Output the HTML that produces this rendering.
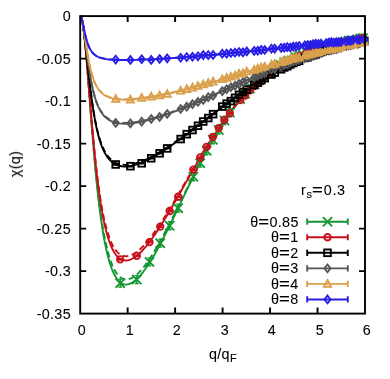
<!DOCTYPE html>
<html><head><meta charset="utf-8"><title>chi(q)</title>
<style>
html,body{margin:0;padding:0;background:#fff;}
#c{position:relative;width:390px;height:379px;overflow:hidden;background:#fff;font-family:"Liberation Sans",sans-serif;}
.t{position:absolute;font-family:"Liberation Sans",sans-serif;font-size:13.8px;line-height:16px;height:16px;color:#000;white-space:nowrap;letter-spacing:0.3px;transform:scaleX(1.04);will-change:transform;-webkit-text-stroke:0.08px #000;}
.sub{font-size:10.6px;position:relative;top:3.4px;letter-spacing:0.3px;}
.eq{display:inline-block;transform:scaleX(1.3);margin:0 1.1px 0 1.2px;}
</style></head><body><div id="c">
<svg width="390" height="379" viewBox="0 0 390 379" style="position:absolute;left:0;top:0">
<defs><clipPath id="cp"><rect x="79.2" y="15.1" width="290.8" height="299.5"/></clipPath></defs>
<g clip-path="url(#cp)" fill="none" stroke-linejoin="round">
<path d="M80.34,16.12 L80.95,16.78 L81.55,18.33 L82.16,20.74 L82.76,23.98 L83.37,27.99 L83.97,32.71 L84.58,38.09 L85.18,44.05 L85.79,50.51 L86.39,57.40 L87.00,64.63 L87.60,72.15 L88.21,79.86 L88.81,87.71 L89.42,95.64 L90.02,103.59 L90.63,111.52 L91.23,119.37 L91.84,127.11 L92.44,134.70 L93.05,142.14 L93.65,149.38 L94.26,156.41 L94.86,163.23 L95.46,169.82 L96.07,176.17 L96.67,182.28 L97.28,188.15 L97.88,193.78 L98.49,199.17 L99.09,204.33 L99.70,209.25 L100.30,213.95 L100.91,218.43 L101.51,222.69 L102.12,226.74 L102.72,230.60 L103.33,234.26 L103.93,237.73 L104.88,242.83 L107.27,253.84 L109.66,262.63 L112.04,269.52 L114.43,274.81 L116.81,278.76 L119.20,281.56 L121.59,283.37 L123.97,284.34 L126.36,284.58 L128.75,284.18 L131.13,283.22 L133.52,281.77 L135.91,279.88 L138.29,277.60 L140.68,274.97 L143.07,272.03 L145.45,268.80 L147.84,265.33 L150.22,261.63 L152.61,257.72 L155.00,253.64 L157.38,249.39 L159.77,245.00 L162.16,240.48 L164.54,235.85 L166.93,231.13 L169.32,226.34 L171.70,221.47 L174.09,216.56 L176.47,211.62 L178.86,206.64 L181.25,201.66 L183.63,196.68 L186.02,191.71 L188.41,186.77 L190.79,181.86 L193.18,176.99 L195.57,172.17 L197.95,167.42 L200.34,162.74 L202.72,158.14 L205.11,153.62 L207.50,149.19 L209.88,144.85 L212.27,140.62 L214.66,136.49 L217.04,132.48 L219.43,128.57 L221.82,124.77 L224.20,121.09 L226.59,117.53 L228.98,114.08 L231.36,110.75 L233.75,107.54 L236.13,104.44 L238.52,101.45 L240.91,98.57 L243.29,95.81 L245.68,93.15 L248.07,90.60 L250.45,88.15 L252.84,85.80 L255.23,83.54 L257.61,81.38 L260.00,79.31 L262.38,77.33 L264.77,75.43 L267.16,73.60 L269.54,71.86 L271.93,70.19 L274.32,68.59 L276.70,67.06 L279.09,65.60 L281.48,64.19 L283.86,62.84 L286.25,61.55 L288.64,60.32 L291.02,59.13 L293.41,57.99 L295.79,56.90 L298.18,55.86 L300.57,54.85 L302.95,53.88 L305.34,52.95 L307.73,52.06 L310.11,51.20 L312.50,50.37 L314.89,49.58 L317.27,48.81 L319.66,48.07 L322.04,47.36 L324.43,46.67 L326.82,46.01 L329.20,45.36 L331.59,44.75 L333.98,44.15 L336.36,43.57 L338.75,43.01 L341.14,42.47 L343.52,41.94 L345.91,41.43 L348.30,40.94 L350.68,40.46 L353.07,40.00 L355.45,39.55 L357.84,39.11 L360.23,38.69 L362.61,38.28 L365.00,37.88" stroke="#149632" stroke-width="1.9"/>
<path d="M80.34,16.12 L80.95,16.78 L81.55,18.33 L82.16,20.74 L82.76,23.97 L83.37,27.97 L83.97,32.69 L84.58,38.05 L85.18,43.99 L85.79,50.41 L86.39,57.26 L87.00,64.44 L87.60,71.89 L88.21,79.52 L88.81,87.29 L89.42,95.12 L90.02,102.96 L90.63,110.76 L91.23,118.49 L91.84,126.09 L92.44,133.55 L93.05,140.84 L93.65,147.93 L94.26,154.81 L94.86,161.47 L95.46,167.90 L96.07,174.09 L96.67,180.05 L97.28,185.76 L97.88,191.24 L98.49,196.48 L99.09,201.48 L99.70,206.26 L100.30,210.82 L100.91,215.16 L101.51,219.29 L102.12,223.22 L102.72,226.96 L103.33,230.50 L103.93,233.86 L104.88,238.79 L107.27,249.45 L109.66,257.95 L112.04,264.63 L114.43,269.78 L116.81,273.64 L119.20,276.39 L121.59,278.21 L123.97,279.21 L126.36,279.51 L128.75,279.20 L131.13,278.36 L133.52,277.03 L135.91,275.28 L138.29,273.15 L140.68,270.69 L143.07,267.91 L145.45,264.87 L147.84,261.57 L150.22,258.04 L152.61,254.32 L155.00,250.41 L157.38,246.33 L159.77,242.11 L162.16,237.76 L164.54,233.30 L166.93,228.74 L169.32,224.09 L171.70,219.37 L174.09,214.60 L176.47,209.79 L178.86,204.94 L181.25,200.08 L183.63,195.21 L186.02,190.35 L188.41,185.51 L190.79,180.70 L193.18,175.92 L195.57,171.19 L197.95,166.52 L200.34,161.91 L202.72,157.37 L205.11,152.91 L207.50,148.54 L209.88,144.26 L212.27,140.08 L214.66,136.00 L217.04,132.02 L219.43,128.15 L221.82,124.39 L224.20,120.75 L226.59,117.21 L228.98,113.79 L231.36,110.48 L233.75,107.29 L236.13,104.21 L238.52,101.24 L240.91,98.39 L243.29,95.64 L245.68,92.99 L248.07,90.45 L250.45,88.02 L252.84,85.68 L255.23,83.43 L257.61,81.28 L260.00,79.22 L262.38,77.24 L264.77,75.35 L267.16,73.53 L269.54,71.79 L271.93,70.13 L274.32,68.54 L276.70,67.01 L279.09,65.55 L281.48,64.14 L283.86,62.80 L286.25,61.52 L288.64,60.28 L291.02,59.10 L293.41,57.96 L295.79,56.87 L298.18,55.83 L300.57,54.82 L302.95,53.86 L305.34,52.93 L307.73,52.04 L310.11,51.18 L312.50,50.36 L314.89,49.56 L317.27,48.79 L319.66,48.06 L322.04,47.34 L324.43,46.66 L326.82,45.99 L329.20,45.35 L331.59,44.73 L333.98,44.14 L336.36,43.56 L338.75,43.00 L341.14,42.46 L343.52,41.93 L345.91,41.42 L348.30,40.93 L350.68,40.45 L353.07,39.99 L355.45,39.54 L357.84,39.11 L360.23,38.68 L362.61,38.27 L365.00,37.87" stroke="#149632" stroke-width="1.9" stroke-dasharray="6,3.5"/>
<path d="M80.34,16.12 L80.95,16.78 L81.55,18.33 L82.16,20.73 L82.76,23.95 L83.37,27.94 L83.97,32.62 L84.58,37.92 L85.18,43.78 L85.79,50.10 L86.39,56.81 L87.00,63.82 L87.60,71.06 L88.21,78.46 L88.81,85.95 L89.42,93.47 L90.02,100.97 L90.63,108.40 L91.23,115.73 L91.84,122.91 L92.44,129.93 L93.05,136.75 L93.65,143.37 L94.26,149.77 L94.86,155.94 L95.46,161.88 L96.07,167.57 L96.67,173.03 L97.28,178.25 L97.88,183.24 L98.49,187.99 L99.09,192.53 L99.70,196.84 L100.30,200.94 L100.91,204.84 L101.51,208.53 L102.12,212.04 L102.72,215.36 L103.33,218.51 L103.93,221.49 L104.88,225.84 L107.27,235.19 L109.66,242.58 L112.04,248.33 L114.43,252.71 L116.81,255.95 L119.20,258.21 L121.59,259.66 L123.97,260.40 L126.36,260.53 L128.75,260.13 L131.13,259.28 L133.52,258.01 L135.91,256.39 L138.29,254.45 L140.68,252.23 L143.07,249.74 L145.45,247.04 L147.84,244.12 L150.22,241.02 L152.61,237.75 L155.00,234.34 L157.38,230.79 L159.77,227.12 L162.16,223.35 L164.54,219.48 L166.93,215.53 L169.32,211.52 L171.70,207.45 L174.09,203.33 L176.47,199.17 L178.86,194.99 L181.25,190.79 L183.63,186.58 L186.02,182.37 L188.41,178.17 L190.79,173.98 L193.18,169.82 L195.57,165.69 L197.95,161.60 L200.34,157.55 L202.72,153.55 L205.11,149.60 L207.50,145.72 L209.88,141.90 L212.27,138.15 L214.66,134.48 L217.04,130.88 L219.43,127.36 L221.82,123.92 L224.20,120.57 L226.59,117.31 L228.98,114.13 L231.36,111.04 L233.75,108.04 L236.13,105.13 L238.52,102.31 L240.91,99.58 L243.29,96.94 L245.68,94.39 L248.07,91.92 L250.45,89.54 L252.84,87.24 L255.23,85.02 L257.61,82.89 L260.00,80.83 L262.38,78.86 L264.77,76.95 L267.16,75.12 L269.54,73.36 L271.93,71.67 L274.32,70.04 L276.70,68.47 L279.09,66.97 L281.48,65.53 L283.86,64.14 L286.25,62.81 L288.64,61.53 L291.02,60.30 L293.41,59.11 L295.79,57.98 L298.18,56.89 L300.57,55.84 L302.95,54.83 L305.34,53.85 L307.73,52.92 L310.11,52.02 L312.50,51.16 L314.89,50.32 L317.27,49.52 L319.66,48.75 L322.04,48.00 L324.43,47.28 L326.82,46.59 L329.20,45.92 L331.59,45.27 L333.98,44.65 L336.36,44.04 L338.75,43.46 L341.14,42.89 L343.52,42.35 L345.91,41.82 L348.30,41.31 L350.68,40.81 L353.07,40.33 L355.45,39.87 L357.84,39.42 L360.23,38.98 L362.61,38.55 L365.00,38.14" stroke="#ca0f1a" stroke-width="1.9"/>
<path d="M80.34,16.12 L80.95,16.78 L81.55,18.33 L82.16,20.73 L82.76,23.95 L83.37,27.92 L83.97,32.59 L84.58,37.88 L85.18,43.71 L85.79,50.00 L86.39,56.67 L87.00,63.63 L87.60,70.81 L88.21,78.13 L88.81,85.54 L89.42,92.97 L90.02,100.38 L90.63,107.70 L91.23,114.91 L91.84,121.97 L92.44,128.87 L93.05,135.56 L93.65,142.05 L94.26,148.31 L94.86,154.35 L95.46,160.15 L96.07,165.71 L96.67,171.04 L97.28,176.13 L97.88,180.98 L98.49,185.62 L99.09,190.03 L99.70,194.22 L100.30,198.21 L100.91,201.99 L101.51,205.58 L102.12,208.99 L102.72,212.21 L103.33,215.27 L103.93,218.16 L104.88,222.38 L107.27,231.46 L109.66,238.63 L112.04,244.22 L114.43,248.50 L116.81,251.67 L119.20,253.91 L121.59,255.36 L123.97,256.13 L126.36,256.32 L128.75,256.00 L131.13,255.23 L133.52,254.08 L135.91,252.57 L138.29,250.75 L140.68,248.66 L143.07,246.31 L145.45,243.74 L147.84,240.97 L150.22,238.01 L152.61,234.88 L155.00,231.61 L157.38,228.20 L159.77,224.67 L162.16,221.03 L164.54,217.29 L166.93,213.47 L169.32,209.58 L171.70,205.62 L174.09,201.62 L176.47,197.57 L178.86,193.49 L181.25,189.39 L183.63,185.27 L186.02,181.15 L188.41,177.04 L190.79,172.93 L193.18,168.85 L195.57,164.79 L197.95,160.76 L200.34,156.77 L202.72,152.83 L205.11,148.94 L207.50,145.11 L209.88,141.34 L212.27,137.63 L214.66,134.00 L217.04,130.44 L219.43,126.95 L221.82,123.55 L224.20,120.23 L226.59,116.99 L228.98,113.84 L231.36,110.77 L233.75,107.80 L236.13,104.91 L238.52,102.10 L240.91,99.39 L243.29,96.76 L245.68,94.22 L248.07,91.77 L250.45,89.40 L252.84,87.11 L255.23,84.91 L257.61,82.78 L260.00,80.74 L262.38,78.77 L264.77,76.87 L267.16,75.04 L269.54,73.29 L271.93,71.60 L274.32,69.98 L276.70,68.42 L279.09,66.92 L281.48,65.48 L283.86,64.10 L286.25,62.77 L288.64,61.49 L291.02,60.26 L293.41,59.08 L295.79,57.95 L298.18,56.86 L300.57,55.81 L302.95,54.80 L305.34,53.83 L307.73,52.90 L310.11,52.00 L312.50,51.14 L314.89,50.30 L317.27,49.50 L319.66,48.73 L322.04,47.98 L324.43,47.27 L326.82,46.57 L329.20,45.90 L331.59,45.26 L333.98,44.63 L336.36,44.03 L338.75,43.45 L341.14,42.88 L343.52,42.34 L345.91,41.81 L348.30,41.30 L350.68,40.81 L353.07,40.33 L355.45,39.86 L357.84,39.41 L360.23,38.97 L362.61,38.55 L365.00,38.14" stroke="#ca0f1a" stroke-width="1.9" stroke-dasharray="6,3.5"/>
<path d="M80.34,16.12 L80.95,16.78 L81.55,18.32 L82.16,20.68 L82.76,23.80 L83.37,27.59 L83.97,31.96 L84.58,36.79 L85.18,41.97 L85.79,47.41 L86.39,53.01 L87.00,58.69 L87.60,64.37 L88.21,69.98 L88.81,75.48 L89.42,80.83 L90.02,86.00 L90.63,90.96 L91.23,95.71 L91.84,100.23 L92.44,104.52 L93.05,108.58 L93.65,112.41 L94.26,116.03 L94.86,119.43 L95.46,122.63 L96.07,125.64 L96.67,128.46 L97.28,131.10 L97.88,133.58 L98.49,135.91 L99.09,138.08 L99.70,140.12 L100.30,142.03 L100.91,143.82 L101.51,145.49 L102.12,147.06 L102.72,148.53 L103.33,149.90 L103.93,151.18 L104.88,153.03 L107.27,156.91 L109.66,159.87 L112.04,162.10 L114.43,163.76 L116.81,164.95 L119.20,165.75 L121.59,166.23 L123.97,166.45 L126.36,166.43 L128.75,166.22 L131.13,165.84 L133.52,165.30 L135.91,164.64 L138.29,163.86 L140.68,162.97 L143.07,161.99 L145.45,160.92 L147.84,159.77 L150.22,158.55 L152.61,157.27 L155.00,155.92 L157.38,154.53 L159.77,153.08 L162.16,151.58 L164.54,150.04 L166.93,148.47 L169.32,146.86 L171.70,145.21 L174.09,143.54 L176.47,141.84 L178.86,140.11 L181.25,138.37 L183.63,136.60 L186.02,134.82 L188.41,133.02 L190.79,131.21 L193.18,129.39 L195.57,127.57 L197.95,125.73 L200.34,123.90 L202.72,122.06 L205.11,120.22 L207.50,118.38 L209.88,116.55 L212.27,114.72 L214.66,112.89 L217.04,111.08 L219.43,109.27 L221.82,107.48 L224.20,105.69 L226.59,103.92 L228.98,102.17 L231.36,100.43 L233.75,98.71 L236.13,97.00 L238.52,95.32 L240.91,93.65 L243.29,92.00 L245.68,90.38 L248.07,88.78 L250.45,87.20 L252.84,85.65 L255.23,84.12 L257.61,82.61 L260.00,81.13 L262.38,79.67 L264.77,78.24 L267.16,76.84 L269.54,75.46 L271.93,74.11 L274.32,72.79 L276.70,71.49 L279.09,70.22 L281.48,68.98 L283.86,67.76 L286.25,66.57 L288.64,65.41 L291.02,64.27 L293.41,63.16 L295.79,62.08 L298.18,61.02 L300.57,59.99 L302.95,58.98 L305.34,58.00 L307.73,57.04 L310.11,56.11 L312.50,55.20 L314.89,54.31 L317.27,53.45 L319.66,52.61 L322.04,51.79 L324.43,51.00 L326.82,50.22 L329.20,49.47 L331.59,48.74 L333.98,48.02 L336.36,47.33 L338.75,46.66 L341.14,46.00 L343.52,45.37 L345.91,44.75 L348.30,44.15 L350.68,43.56 L353.07,42.99 L355.45,42.44 L357.84,41.90 L360.23,41.38 L362.61,40.88 L365.00,40.38" stroke="#000000" stroke-width="1.9"/>
<path d="M80.34,16.12 L80.95,16.78 L81.55,18.32 L82.16,20.68 L82.76,23.80 L83.37,27.58 L83.97,31.94 L84.58,36.75 L85.18,41.92 L85.79,47.33 L86.39,52.90 L87.00,58.54 L87.60,64.17 L88.21,69.74 L88.81,75.19 L89.42,80.48 L90.02,85.59 L90.63,90.50 L91.23,95.18 L91.84,99.64 L92.44,103.87 L93.05,107.88 L93.65,111.65 L94.26,115.21 L94.86,118.56 L95.46,121.71 L96.07,124.66 L96.67,127.43 L97.28,130.03 L97.88,132.47 L98.49,134.75 L99.09,136.88 L99.70,138.88 L100.30,140.76 L100.91,142.51 L101.51,144.15 L102.12,145.69 L102.72,147.13 L103.33,148.47 L103.93,149.73 L104.88,151.55 L107.27,155.35 L109.66,158.26 L112.04,160.47 L114.43,162.11 L116.81,163.29 L119.20,164.09 L121.59,164.59 L123.97,164.82 L126.36,164.83 L128.75,164.64 L131.13,164.29 L133.52,163.80 L135.91,163.17 L138.29,162.43 L140.68,161.58 L143.07,160.64 L145.45,159.61 L147.84,158.51 L150.22,157.34 L152.61,156.10 L155.00,154.80 L157.38,153.44 L159.77,152.04 L162.16,150.59 L164.54,149.09 L166.93,147.56 L169.32,145.98 L171.70,144.38 L174.09,142.74 L176.47,141.08 L178.86,139.39 L181.25,137.68 L183.63,135.95 L186.02,134.20 L188.41,132.43 L190.79,130.65 L193.18,128.86 L195.57,127.06 L197.95,125.26 L200.34,123.44 L202.72,121.63 L205.11,119.81 L207.50,118.00 L209.88,116.19 L212.27,114.38 L214.66,112.57 L217.04,110.77 L219.43,108.99 L221.82,107.21 L224.20,105.44 L226.59,103.68 L228.98,101.94 L231.36,100.22 L233.75,98.51 L236.13,96.81 L238.52,95.14 L240.91,93.48 L243.29,91.85 L245.68,90.24 L248.07,88.64 L250.45,87.07 L252.84,85.53 L255.23,84.00 L257.61,82.50 L260.00,81.03 L262.38,79.58 L264.77,78.16 L267.16,76.76 L269.54,75.39 L271.93,74.04 L274.32,72.72 L276.70,71.43 L279.09,70.16 L281.48,68.92 L283.86,67.71 L286.25,66.52 L288.64,65.36 L291.02,64.23 L293.41,63.12 L295.79,62.04 L298.18,60.98 L300.57,59.95 L302.95,58.95 L305.34,57.97 L307.73,57.01 L310.11,56.08 L312.50,55.17 L314.89,54.29 L317.27,53.43 L319.66,52.59 L322.04,51.77 L324.43,50.98 L326.82,50.20 L329.20,49.45 L331.59,48.72 L333.98,48.01 L336.36,47.32 L338.75,46.64 L341.14,45.99 L343.52,45.35 L345.91,44.74 L348.30,44.14 L350.68,43.55 L353.07,42.98 L355.45,42.43 L357.84,41.90 L360.23,41.37 L362.61,40.87 L365.00,40.38" stroke="#000000" stroke-width="1.9" stroke-dasharray="6,3.5"/>
<path d="M80.34,16.12 L80.95,16.78 L81.55,18.30 L82.16,20.63 L82.76,23.65 L83.37,27.26 L83.97,31.32 L84.58,35.72 L85.18,40.32 L85.79,45.03 L86.39,49.75 L87.00,54.40 L87.60,58.93 L88.21,63.29 L88.81,67.46 L89.42,71.41 L90.02,75.14 L90.63,78.64 L91.23,81.92 L91.84,84.98 L92.44,87.83 L93.05,90.48 L93.65,92.94 L94.26,95.22 L94.86,97.34 L95.46,99.30 L96.07,101.12 L96.67,102.81 L97.28,104.38 L97.88,105.83 L98.49,107.18 L99.09,108.43 L99.70,109.59 L100.30,110.67 L100.91,111.67 L101.51,112.60 L102.12,113.47 L102.72,114.28 L103.33,115.03 L103.93,115.73 L104.88,116.73 L107.27,118.80 L109.66,120.35 L112.04,121.51 L114.43,122.37 L116.81,122.97 L119.20,123.37 L121.59,123.61 L123.97,123.71 L126.36,123.70 L128.75,123.58 L131.13,123.38 L133.52,123.10 L135.91,122.75 L138.29,122.34 L140.68,121.88 L143.07,121.37 L145.45,120.82 L147.84,120.22 L150.22,119.59 L152.61,118.92 L155.00,118.22 L157.38,117.49 L159.77,116.73 L162.16,115.94 L164.54,115.13 L166.93,114.30 L169.32,113.45 L171.70,112.57 L174.09,111.68 L176.47,110.77 L178.86,109.84 L181.25,108.90 L183.63,107.94 L186.02,106.97 L188.41,105.99 L190.79,104.99 L193.18,103.99 L195.57,102.97 L197.95,101.95 L200.34,100.92 L202.72,99.88 L205.11,98.84 L207.50,97.79 L209.88,96.74 L212.27,95.68 L214.66,94.62 L217.04,93.56 L219.43,92.49 L221.82,91.43 L224.20,90.36 L226.59,89.30 L228.98,88.24 L231.36,87.18 L233.75,86.12 L236.13,85.06 L238.52,84.01 L240.91,82.96 L243.29,81.92 L245.68,80.88 L248.07,79.85 L250.45,78.82 L252.84,77.80 L255.23,76.79 L257.61,75.78 L260.00,74.78 L262.38,73.80 L264.77,72.82 L267.16,71.84 L269.54,70.88 L271.93,69.93 L274.32,68.99 L276.70,68.06 L279.09,67.14 L281.48,66.23 L283.86,65.33 L286.25,64.44 L288.64,63.57 L291.02,62.70 L293.41,61.85 L295.79,61.01 L298.18,60.18 L300.57,59.36 L302.95,58.56 L305.34,57.77 L307.73,56.99 L310.11,56.22 L312.50,55.47 L314.89,54.73 L317.27,54.00 L319.66,53.28 L322.04,52.58 L324.43,51.89 L326.82,51.21 L329.20,50.54 L331.59,49.89 L333.98,49.25 L336.36,48.62 L338.75,48.00 L341.14,47.40 L343.52,46.80 L345.91,46.22 L348.30,45.65 L350.68,45.09 L353.07,44.55 L355.45,44.01 L357.84,43.49 L360.23,42.98 L362.61,42.47 L365.00,41.98" stroke="#555555" stroke-width="1.9"/>
<path d="M80.34,16.12 L80.95,16.78 L81.55,18.30 L82.16,20.62 L82.76,23.64 L83.37,27.25 L83.97,31.30 L84.58,35.69 L85.18,40.27 L85.79,44.96 L86.39,49.65 L87.00,54.28 L87.60,58.78 L88.21,63.11 L88.81,67.24 L89.42,71.16 L90.02,74.85 L90.63,78.32 L91.23,81.56 L91.84,84.59 L92.44,87.40 L93.05,90.02 L93.65,92.45 L94.26,94.71 L94.86,96.80 L95.46,98.73 L96.07,100.53 L96.67,102.20 L97.28,103.74 L97.88,105.18 L98.49,106.50 L99.09,107.74 L99.70,108.88 L100.30,109.95 L100.91,110.94 L101.51,111.86 L102.12,112.71 L102.72,113.51 L103.33,114.25 L103.93,114.94 L104.88,115.92 L107.27,117.97 L109.66,119.51 L112.04,120.66 L114.43,121.51 L116.81,122.11 L119.20,122.52 L121.59,122.77 L123.97,122.88 L126.36,122.87 L128.75,122.77 L131.13,122.58 L133.52,122.32 L135.91,121.99 L138.29,121.60 L140.68,121.16 L143.07,120.67 L145.45,120.14 L147.84,119.56 L150.22,118.95 L152.61,118.30 L155.00,117.62 L157.38,116.91 L159.77,116.17 L162.16,115.40 L164.54,114.61 L166.93,113.80 L169.32,112.96 L171.70,112.11 L174.09,111.23 L176.47,110.34 L178.86,109.43 L181.25,108.50 L183.63,107.56 L186.02,106.60 L188.41,105.64 L190.79,104.66 L193.18,103.67 L195.57,102.67 L197.95,101.66 L200.34,100.64 L202.72,99.61 L205.11,98.58 L207.50,97.55 L209.88,96.50 L212.27,95.46 L214.66,94.41 L217.04,93.36 L219.43,92.30 L221.82,91.25 L224.20,90.19 L226.59,89.13 L228.98,88.08 L231.36,87.03 L233.75,85.97 L236.13,84.92 L238.52,83.88 L240.91,82.84 L243.29,81.80 L245.68,80.77 L248.07,79.74 L250.45,78.72 L252.84,77.70 L255.23,76.70 L257.61,75.70 L260.00,74.70 L262.38,73.72 L264.77,72.74 L267.16,71.78 L269.54,70.82 L271.93,69.87 L274.32,68.93 L276.70,68.00 L279.09,67.09 L281.48,66.18 L283.86,65.28 L286.25,64.40 L288.64,63.52 L291.02,62.66 L293.41,61.81 L295.79,60.97 L298.18,60.15 L300.57,59.33 L302.95,58.53 L305.34,57.74 L307.73,56.96 L310.11,56.20 L312.50,55.44 L314.89,54.70 L317.27,53.98 L319.66,53.26 L322.04,52.56 L324.43,51.87 L326.82,51.19 L329.20,50.53 L331.59,49.87 L333.98,49.23 L336.36,48.60 L338.75,47.99 L341.14,47.38 L343.52,46.79 L345.91,46.21 L348.30,45.64 L350.68,45.08 L353.07,44.54 L355.45,44.00 L357.84,43.48 L360.23,42.97 L362.61,42.47 L365.00,41.98" stroke="#555555" stroke-width="1.9" stroke-dasharray="6,3.5"/>
<path d="M80.34,16.12 L80.95,16.78 L81.55,18.29 L82.16,20.57 L82.76,23.50 L83.37,26.93 L83.97,30.73 L84.58,34.74 L85.18,38.85 L85.79,42.96 L86.39,46.98 L87.00,50.85 L87.60,54.54 L88.21,58.01 L88.81,61.27 L89.42,64.30 L90.02,67.11 L90.63,69.70 L91.23,72.09 L91.84,74.29 L92.44,76.31 L93.05,78.16 L93.65,79.86 L94.26,81.43 L94.86,82.87 L95.46,84.19 L96.07,85.40 L96.67,86.52 L97.28,87.55 L97.88,88.50 L98.49,89.37 L99.09,90.18 L99.70,90.92 L100.30,91.61 L100.91,92.25 L101.51,92.84 L102.12,93.39 L102.72,93.89 L103.33,94.36 L103.93,94.80 L104.88,95.42 L107.27,96.70 L109.66,97.65 L112.04,98.36 L114.43,98.88 L116.81,99.24 L119.20,99.48 L121.59,99.62 L123.97,99.68 L126.36,99.67 L128.75,99.60 L131.13,99.47 L133.52,99.30 L135.91,99.09 L138.29,98.85 L140.68,98.57 L143.07,98.26 L145.45,97.92 L147.84,97.56 L150.22,97.18 L152.61,96.77 L155.00,96.34 L157.38,95.90 L159.77,95.43 L162.16,94.95 L164.54,94.46 L166.93,93.94 L169.32,93.42 L171.70,92.88 L174.09,92.33 L176.47,91.76 L178.86,91.19 L181.25,90.60 L183.63,90.00 L186.02,89.40 L188.41,88.78 L190.79,88.15 L193.18,87.52 L195.57,86.88 L197.95,86.23 L200.34,85.57 L202.72,84.91 L205.11,84.24 L207.50,83.57 L209.88,82.89 L212.27,82.21 L214.66,81.52 L217.04,80.83 L219.43,80.13 L221.82,79.43 L224.20,78.73 L226.59,78.03 L228.98,77.32 L231.36,76.62 L233.75,75.91 L236.13,75.20 L238.52,74.49 L240.91,73.78 L243.29,73.07 L245.68,72.36 L248.07,71.65 L250.45,70.94 L252.84,70.24 L255.23,69.53 L257.61,68.83 L260.00,68.13 L262.38,67.43 L264.77,66.73 L267.16,66.04 L269.54,65.35 L271.93,64.67 L274.32,63.99 L276.70,63.31 L279.09,62.63 L281.48,61.96 L283.86,61.30 L286.25,60.64 L288.64,59.98 L291.02,59.34 L293.41,58.69 L295.79,58.05 L298.18,57.42 L300.57,56.79 L302.95,56.17 L305.34,55.55 L307.73,54.95 L310.11,54.34 L312.50,53.75 L314.89,53.16 L317.27,52.57 L319.66,52.00 L322.04,51.43 L324.43,50.86 L326.82,50.31 L329.20,49.76 L331.59,49.22 L333.98,48.68 L336.36,48.16 L338.75,47.64 L341.14,47.12 L343.52,46.62 L345.91,46.12 L348.30,45.63 L350.68,45.14 L353.07,44.67 L355.45,44.20 L357.84,43.73 L360.23,43.28 L362.61,42.83 L365.00,42.39" stroke="#dba04b" stroke-width="1.9"/>
<path d="M80.34,16.12 L80.95,16.78 L81.55,18.29 L82.16,20.57 L82.76,23.49 L83.37,26.92 L83.97,30.71 L84.58,34.71 L85.18,38.81 L85.79,42.90 L86.39,46.90 L87.00,50.75 L87.60,54.41 L88.21,57.87 L88.81,61.10 L89.42,64.11 L90.02,66.89 L90.63,69.46 L91.23,71.83 L91.84,74.01 L92.44,76.01 L93.05,77.84 L93.65,79.53 L94.26,81.08 L94.86,82.50 L95.46,83.81 L96.07,85.01 L96.67,86.11 L97.28,87.13 L97.88,88.07 L98.49,88.93 L99.09,89.73 L99.70,90.47 L100.30,91.15 L100.91,91.78 L101.51,92.37 L102.12,92.91 L102.72,93.41 L103.33,93.87 L103.93,94.31 L104.88,94.92 L107.27,96.19 L109.66,97.14 L112.04,97.84 L114.43,98.35 L116.81,98.72 L119.20,98.96 L121.59,99.11 L123.97,99.18 L126.36,99.17 L128.75,99.11 L131.13,98.99 L133.52,98.83 L135.91,98.63 L138.29,98.40 L140.68,98.13 L143.07,97.83 L145.45,97.50 L147.84,97.15 L150.22,96.78 L152.61,96.39 L155.00,95.97 L157.38,95.54 L159.77,95.08 L162.16,94.61 L164.54,94.13 L166.93,93.63 L169.32,93.11 L171.70,92.58 L174.09,92.04 L176.47,91.49 L178.86,90.92 L181.25,90.34 L183.63,89.76 L186.02,89.16 L188.41,88.55 L190.79,87.93 L193.18,87.31 L195.57,86.68 L197.95,86.03 L200.34,85.39 L202.72,84.73 L205.11,84.07 L207.50,83.40 L209.88,82.73 L212.27,82.05 L214.66,81.37 L217.04,80.69 L219.43,80.00 L221.82,79.31 L224.20,78.61 L226.59,77.91 L228.98,77.21 L231.36,76.51 L233.75,75.81 L236.13,75.10 L238.52,74.39 L240.91,73.69 L243.29,72.98 L245.68,72.28 L248.07,71.57 L250.45,70.87 L252.84,70.16 L255.23,69.46 L257.61,68.76 L260.00,68.06 L262.38,67.37 L264.77,66.68 L267.16,65.99 L269.54,65.30 L271.93,64.62 L274.32,63.94 L276.70,63.26 L279.09,62.59 L281.48,61.92 L283.86,61.26 L286.25,60.60 L288.64,59.95 L291.02,59.30 L293.41,58.66 L295.79,58.02 L298.18,57.39 L300.57,56.76 L302.95,56.14 L305.34,55.53 L307.73,54.92 L310.11,54.32 L312.50,53.72 L314.89,53.14 L317.27,52.55 L319.66,51.98 L322.04,51.41 L324.43,50.85 L326.82,50.29 L329.20,49.74 L331.59,49.20 L333.98,48.67 L336.36,48.14 L338.75,47.62 L341.14,47.11 L343.52,46.60 L345.91,46.11 L348.30,45.62 L350.68,45.13 L353.07,44.66 L355.45,44.19 L357.84,43.72 L360.23,43.27 L362.61,42.82 L365.00,42.38" stroke="#dba04b" stroke-width="1.9" stroke-dasharray="6,3.5"/>
<path d="M80.34,16.12 L80.95,16.78 L81.55,18.24 L82.16,20.37 L82.76,22.95 L83.37,25.80 L83.97,28.73 L84.58,31.62 L85.18,34.37 L85.79,36.93 L86.39,39.26 L87.00,41.38 L87.60,43.27 L88.21,44.97 L88.81,46.47 L89.42,47.81 L90.02,49.00 L90.63,50.06 L91.23,51.01 L91.84,51.85 L92.44,52.60 L93.05,53.28 L93.65,53.88 L94.26,54.42 L94.86,54.91 L95.46,55.36 L96.07,55.76 L96.67,56.12 L97.28,56.45 L97.88,56.75 L98.49,57.03 L99.09,57.28 L99.70,57.51 L100.30,57.72 L100.91,57.91 L101.51,58.09 L102.12,58.25 L102.72,58.40 L103.33,58.54 L103.93,58.66 L104.88,58.85 L107.27,59.21 L109.66,59.48 L112.04,59.68 L114.43,59.83 L116.81,59.93 L119.20,59.99 L121.59,60.03 L123.97,60.05 L126.36,60.04 L128.75,60.02 L131.13,59.99 L133.52,59.94 L135.91,59.88 L138.29,59.82 L140.68,59.74 L143.07,59.65 L145.45,59.56 L147.84,59.46 L150.22,59.35 L152.61,59.24 L155.00,59.12 L157.38,58.99 L159.77,58.86 L162.16,58.73 L164.54,58.58 L166.93,58.44 L169.32,58.29 L171.70,58.13 L174.09,57.98 L176.47,57.81 L178.86,57.65 L181.25,57.47 L183.63,57.30 L186.02,57.12 L188.41,56.94 L190.79,56.75 L193.18,56.57 L195.57,56.37 L197.95,56.18 L200.34,55.98 L202.72,55.78 L205.11,55.57 L207.50,55.37 L209.88,55.16 L212.27,54.95 L214.66,54.73 L217.04,54.51 L219.43,54.29 L221.82,54.07 L224.20,53.85 L226.59,53.62 L228.98,53.39 L231.36,53.16 L233.75,52.93 L236.13,52.69 L238.52,52.46 L240.91,52.22 L243.29,51.98 L245.68,51.74 L248.07,51.49 L250.45,51.25 L252.84,51.00 L255.23,50.75 L257.61,50.51 L260.00,50.26 L262.38,50.01 L264.77,49.75 L267.16,49.50 L269.54,49.25 L271.93,48.99 L274.32,48.74 L276.70,48.48 L279.09,48.23 L281.48,47.97 L283.86,47.71 L286.25,47.45 L288.64,47.19 L291.02,46.94 L293.41,46.68 L295.79,46.42 L298.18,46.16 L300.57,45.90 L302.95,45.64 L305.34,45.38 L307.73,45.12 L310.11,44.86 L312.50,44.61 L314.89,44.35 L317.27,44.09 L319.66,43.83 L322.04,43.58 L324.43,43.32 L326.82,43.06 L329.20,42.81 L331.59,42.55 L333.98,42.30 L336.36,42.05 L338.75,41.79 L341.14,41.54 L343.52,41.29 L345.91,41.04 L348.30,40.79 L350.68,40.55 L353.07,40.30 L355.45,40.06 L357.84,39.81 L360.23,39.57 L362.61,39.33 L365.00,39.09" stroke="#281ee6" stroke-width="1.9"/>
<path d="M80.34,16.12 L80.95,16.78 L81.55,18.24 L82.16,20.36 L82.76,22.95 L83.37,25.79 L83.97,28.72 L84.58,31.60 L85.18,34.34 L85.79,36.89 L86.39,39.22 L87.00,41.32 L87.60,43.21 L88.21,44.90 L88.81,46.40 L89.42,47.73 L90.02,48.91 L90.63,49.97 L91.23,50.91 L91.84,51.74 L92.44,52.49 L93.05,53.16 L93.65,53.76 L94.26,54.30 L94.86,54.79 L95.46,55.23 L96.07,55.63 L96.67,55.99 L97.28,56.32 L97.88,56.62 L98.49,56.89 L99.09,57.14 L99.70,57.37 L100.30,57.58 L100.91,57.77 L101.51,57.94 L102.12,58.11 L102.72,58.26 L103.33,58.39 L103.93,58.52 L104.88,58.70 L107.27,59.07 L109.66,59.34 L112.04,59.54 L114.43,59.68 L116.81,59.78 L119.20,59.85 L121.59,59.89 L123.97,59.91 L126.36,59.91 L128.75,59.89 L131.13,59.86 L133.52,59.81 L135.91,59.75 L138.29,59.69 L140.68,59.61 L143.07,59.53 L145.45,59.44 L147.84,59.34 L150.22,59.24 L152.61,59.13 L155.00,59.01 L157.38,58.89 L159.77,58.76 L162.16,58.63 L164.54,58.49 L166.93,58.34 L169.32,58.20 L171.70,58.05 L174.09,57.89 L176.47,57.73 L178.86,57.56 L181.25,57.40 L183.63,57.22 L186.02,57.05 L188.41,56.87 L190.79,56.68 L193.18,56.50 L195.57,56.31 L197.95,56.11 L200.34,55.92 L202.72,55.72 L205.11,55.52 L207.50,55.31 L209.88,55.10 L212.27,54.89 L214.66,54.68 L217.04,54.46 L219.43,54.24 L221.82,54.02 L224.20,53.80 L226.59,53.58 L228.98,53.35 L231.36,53.12 L233.75,52.89 L236.13,52.65 L238.52,52.42 L240.91,52.18 L243.29,51.94 L245.68,51.70 L248.07,51.46 L250.45,51.22 L252.84,50.97 L255.23,50.73 L257.61,50.48 L260.00,50.23 L262.38,49.98 L264.77,49.73 L267.16,49.48 L269.54,49.22 L271.93,48.97 L274.32,48.72 L276.70,48.46 L279.09,48.20 L281.48,47.95 L283.86,47.69 L286.25,47.43 L288.64,47.18 L291.02,46.92 L293.41,46.66 L295.79,46.40 L298.18,46.14 L300.57,45.89 L302.95,45.63 L305.34,45.37 L307.73,45.11 L310.11,44.85 L312.50,44.59 L314.89,44.34 L317.27,44.08 L319.66,43.82 L322.04,43.56 L324.43,43.31 L326.82,43.05 L329.20,42.80 L331.59,42.54 L333.98,42.29 L336.36,42.04 L338.75,41.79 L341.14,41.54 L343.52,41.28 L345.91,41.04 L348.30,40.79 L350.68,40.54 L353.07,40.29 L355.45,40.05 L357.84,39.80 L360.23,39.56 L362.61,39.32 L365.00,39.08" stroke="#281ee6" stroke-width="1.9" stroke-dasharray="6,3.5"/>
</g>
<g>
<path d="M120.20,279.17v8.00M118.30,279.17h3.80M118.30,287.17h3.80M136.77,275.59v8.00M134.87,275.59h3.80M134.87,283.59h3.80M149.48,257.88v8.00M147.58,257.88h3.80M147.58,265.88h3.80M160.20,239.17v8.00M158.30,239.17h3.80M158.30,247.17h3.80M169.64,221.75v8.00M167.74,221.75h3.80M167.74,229.75h3.80M178.18,204.16v8.00M176.28,204.16h3.80M176.28,212.16h3.80M193.34,172.69v8.00M191.44,172.69h3.80M191.44,180.69h3.80M200.20,159.17v8.00M198.30,159.17h3.80M198.30,167.17h3.80M206.69,146.69v8.00M204.79,146.69h3.80M204.79,154.69h3.80M212.86,135.71v8.00M210.96,135.71h3.80M210.96,143.71h3.80M218.76,125.99v8.00M216.86,125.99h3.80M216.86,133.99h3.80M224.42,116.54v8.00M222.52,116.54h3.80M222.52,124.54h3.80M229.86,108.60v8.00M227.96,108.60h3.80M227.96,116.60h3.80M240.20,94.98v8.00M238.30,94.98h3.80M238.30,102.98h3.80M245.12,89.75v8.00M243.22,89.75h3.80M243.22,97.75h3.80M249.90,84.81v8.00M248.00,84.81h3.80M248.00,92.81h3.80M254.55,80.31v8.00M252.65,80.31h3.80M252.65,88.31h3.80M259.08,76.49v8.00M257.18,76.49h3.80M257.18,84.49h3.80M263.50,72.18v8.00M261.60,72.18h3.80M261.60,80.18h3.80M267.81,69.40v8.00M265.91,69.40h3.80M265.91,77.40h3.80M276.16,63.71v8.00M274.26,63.71h3.80M274.26,71.71h3.80M280.20,60.99v8.00M278.30,60.99h3.80M278.30,68.99h3.80M284.16,58.30v8.00M282.26,58.30h3.80M282.26,66.30h3.80M288.04,56.56v8.00M286.14,56.56h3.80M286.14,64.56h3.80M295.60,53.25v8.00M293.70,53.25h3.80M293.70,61.25h3.80M299.29,51.57v8.00M297.39,51.57h3.80M297.39,59.57h3.80M306.47,48.37v8.00M304.57,48.37h3.80M304.57,56.37h3.80M309.98,47.29v8.00M308.08,47.29h3.80M308.08,55.29h3.80M313.43,46.25v8.00M311.53,46.25h3.80M311.53,54.25h3.80M316.84,45.01v8.00M314.94,45.01h3.80M314.94,53.01h3.80M320.20,43.72v8.00M318.30,43.72h3.80M318.30,51.72h3.80M323.51,42.43v8.00M321.61,42.43h3.80M321.61,50.43h3.80M326.77,42.34v8.00M324.87,42.34h3.80M324.87,50.34h3.80M333.18,40.50v8.00M331.28,40.50h3.80M331.28,48.50h3.80M336.32,39.78v8.00M334.42,39.78h3.80M334.42,47.78h3.80M339.43,39.47v8.00M337.53,39.47h3.80M337.53,47.47h3.80M342.49,38.40v8.00M340.59,38.40h3.80M340.59,46.40h3.80M345.53,37.77v8.00M343.63,37.77h3.80M343.63,45.77h3.80M348.52,36.61v8.00M346.62,36.61h3.80M346.62,44.61h3.80M351.49,36.34v8.00M349.59,36.34h3.80M349.59,44.34h3.80M357.32,35.62v8.00M355.42,35.62h3.80M355.42,43.62h3.80M360.20,34.53v8.00M358.30,34.53h3.80M358.30,42.53h3.80M363.04,34.30v8.00M361.14,34.30h3.80M361.14,42.30h3.80" stroke="#149632" stroke-width="1.4" fill="none"/>
<path d="M115.60,278.57L124.80,287.77M115.60,287.77L124.80,278.57" stroke="#149632" stroke-width="1.85" fill="none"/>
<path d="M132.17,274.99L141.37,284.19M132.17,284.19L141.37,274.99" stroke="#149632" stroke-width="1.85" fill="none"/>
<path d="M144.88,257.28L154.08,266.48M144.88,266.48L154.08,257.28" stroke="#149632" stroke-width="1.85" fill="none"/>
<path d="M155.60,238.57L164.80,247.77M155.60,247.77L164.80,238.57" stroke="#149632" stroke-width="1.85" fill="none"/>
<path d="M165.04,221.15L174.24,230.35M165.04,230.35L174.24,221.15" stroke="#149632" stroke-width="1.85" fill="none"/>
<path d="M173.58,203.56L182.78,212.76M173.58,212.76L182.78,203.56" stroke="#149632" stroke-width="1.85" fill="none"/>
<path d="M188.74,172.09L197.94,181.29M188.74,181.29L197.94,172.09" stroke="#149632" stroke-width="1.85" fill="none"/>
<path d="M195.60,158.57L204.80,167.77M195.60,167.77L204.80,158.57" stroke="#149632" stroke-width="1.85" fill="none"/>
<path d="M202.09,146.09L211.29,155.29M202.09,155.29L211.29,146.09" stroke="#149632" stroke-width="1.85" fill="none"/>
<path d="M208.26,135.11L217.46,144.31M208.26,144.31L217.46,135.11" stroke="#149632" stroke-width="1.85" fill="none"/>
<path d="M214.16,125.39L223.36,134.59M214.16,134.59L223.36,125.39" stroke="#149632" stroke-width="1.85" fill="none"/>
<path d="M219.82,115.94L229.02,125.14M219.82,125.14L229.02,115.94" stroke="#149632" stroke-width="1.85" fill="none"/>
<path d="M225.26,108.00L234.46,117.20M225.26,117.20L234.46,108.00" stroke="#149632" stroke-width="1.85" fill="none"/>
<path d="M235.60,94.38L244.80,103.58M235.60,103.58L244.80,94.38" stroke="#149632" stroke-width="1.85" fill="none"/>
<path d="M240.52,89.15L249.72,98.35M240.52,98.35L249.72,89.15" stroke="#149632" stroke-width="1.85" fill="none"/>
<path d="M245.30,84.21L254.50,93.41M245.30,93.41L254.50,84.21" stroke="#149632" stroke-width="1.85" fill="none"/>
<path d="M249.95,79.71L259.15,88.91M249.95,88.91L259.15,79.71" stroke="#149632" stroke-width="1.85" fill="none"/>
<path d="M254.48,75.89L263.68,85.09M254.48,85.09L263.68,75.89" stroke="#149632" stroke-width="1.85" fill="none"/>
<path d="M258.90,71.58L268.10,80.78M258.90,80.78L268.10,71.58" stroke="#149632" stroke-width="1.85" fill="none"/>
<path d="M263.21,68.80L272.41,78.00M263.21,78.00L272.41,68.80" stroke="#149632" stroke-width="1.85" fill="none"/>
<path d="M271.56,63.11L280.76,72.31M271.56,72.31L280.76,63.11" stroke="#149632" stroke-width="1.85" fill="none"/>
<path d="M275.60,60.39L284.80,69.59M275.60,69.59L284.80,60.39" stroke="#149632" stroke-width="1.85" fill="none"/>
<path d="M279.56,57.70L288.76,66.90M279.56,66.90L288.76,57.70" stroke="#149632" stroke-width="1.85" fill="none"/>
<path d="M283.44,55.96L292.64,65.16M283.44,65.16L292.64,55.96" stroke="#149632" stroke-width="1.85" fill="none"/>
<path d="M291.00,52.65L300.20,61.85M291.00,61.85L300.20,52.65" stroke="#149632" stroke-width="1.85" fill="none"/>
<path d="M294.69,50.97L303.89,60.17M294.69,60.17L303.89,50.97" stroke="#149632" stroke-width="1.85" fill="none"/>
<path d="M301.87,47.77L311.07,56.97M301.87,56.97L311.07,47.77" stroke="#149632" stroke-width="1.85" fill="none"/>
<path d="M305.38,46.69L314.58,55.89M305.38,55.89L314.58,46.69" stroke="#149632" stroke-width="1.85" fill="none"/>
<path d="M308.83,45.65L318.03,54.85M308.83,54.85L318.03,45.65" stroke="#149632" stroke-width="1.85" fill="none"/>
<path d="M312.24,44.41L321.44,53.61M312.24,53.61L321.44,44.41" stroke="#149632" stroke-width="1.85" fill="none"/>
<path d="M315.60,43.12L324.80,52.32M315.60,52.32L324.80,43.12" stroke="#149632" stroke-width="1.85" fill="none"/>
<path d="M318.91,41.83L328.11,51.03M318.91,51.03L328.11,41.83" stroke="#149632" stroke-width="1.85" fill="none"/>
<path d="M322.17,41.74L331.37,50.94M322.17,50.94L331.37,41.74" stroke="#149632" stroke-width="1.85" fill="none"/>
<path d="M328.58,39.90L337.78,49.10M328.58,49.10L337.78,39.90" stroke="#149632" stroke-width="1.85" fill="none"/>
<path d="M331.72,39.18L340.92,48.38M331.72,48.38L340.92,39.18" stroke="#149632" stroke-width="1.85" fill="none"/>
<path d="M334.83,38.87L344.03,48.07M334.83,48.07L344.03,38.87" stroke="#149632" stroke-width="1.85" fill="none"/>
<path d="M337.89,37.80L347.09,47.00M337.89,47.00L347.09,37.80" stroke="#149632" stroke-width="1.85" fill="none"/>
<path d="M340.93,37.17L350.13,46.37M340.93,46.37L350.13,37.17" stroke="#149632" stroke-width="1.85" fill="none"/>
<path d="M343.92,36.01L353.12,45.21M343.92,45.21L353.12,36.01" stroke="#149632" stroke-width="1.85" fill="none"/>
<path d="M346.89,35.74L356.09,44.94M346.89,44.94L356.09,35.74" stroke="#149632" stroke-width="1.85" fill="none"/>
<path d="M352.72,35.02L361.92,44.22M352.72,44.22L361.92,35.02" stroke="#149632" stroke-width="1.85" fill="none"/>
<path d="M355.60,33.93L364.80,43.13M355.60,43.13L364.80,33.93" stroke="#149632" stroke-width="1.85" fill="none"/>
<path d="M358.44,33.70L367.64,42.90M358.44,42.90L367.64,33.70" stroke="#149632" stroke-width="1.85" fill="none"/>
<path d="M120.20,258.75v1.20M117.90,258.75h4.60M117.90,259.95h4.60M136.77,255.28v1.20M134.47,255.28h4.60M134.47,256.48h4.60M149.48,241.55v1.20M147.18,241.55h4.60M147.18,242.75h4.60M160.20,226.07v1.20M157.90,226.07h4.60M157.90,227.27h4.60M169.64,210.36v1.20M167.34,210.36h4.60M167.34,211.56h4.60M178.18,196.16v1.20M175.88,196.16h4.60M175.88,197.36h4.60M193.34,169.02v1.20M191.04,169.02h4.60M191.04,170.22h4.60M200.20,156.93v1.20M197.90,156.93h4.60M197.90,158.13h4.60M206.69,146.21v1.20M204.39,146.21h4.60M204.39,147.41h4.60M212.86,136.35v1.20M210.56,136.35h4.60M210.56,137.55h4.60M218.76,127.45v1.20M216.46,127.45h4.60M216.46,128.65h4.60M224.42,119.29v1.20M222.12,119.29h4.60M222.12,120.49h4.60M229.86,112.65v1.20M227.56,112.65h4.60M227.56,113.85h4.60M240.20,99.57v1.20M237.90,99.57h4.60M237.90,100.77h4.60M245.12,94.85v1.20M242.82,94.85h4.60M242.82,96.05h4.60M249.90,89.63v1.20M247.60,89.63h4.60M247.60,90.83h4.60M254.55,85.53v1.20M252.25,85.53h4.60M252.25,86.73h4.60M259.08,80.75v1.20M256.78,80.75h4.60M256.78,81.95h4.60M263.50,77.02v1.20M261.20,77.02h4.60M261.20,78.22h4.60M267.81,74.08v1.20M265.51,74.08h4.60M265.51,75.28h4.60M276.16,67.78v1.20M273.86,67.78h4.60M273.86,68.98h4.60M280.20,65.87v1.20M277.90,65.87h4.60M277.90,67.07h4.60M284.16,63.33v1.20M281.86,63.33h4.60M281.86,64.53h4.60M288.04,61.20v1.20M285.74,61.20h4.60M285.74,62.40h4.60M295.60,57.74v1.20M293.30,57.74h4.60M293.30,58.94h4.60M299.29,55.68v1.20M296.99,55.68h4.60M296.99,56.88h4.60M306.47,52.31v1.20M304.17,52.31h4.60M304.17,53.51h4.60M309.98,51.73v1.20M307.68,51.73h4.60M307.68,52.93h4.60M313.43,50.00v1.20M311.13,50.00h4.60M311.13,51.20h4.60M316.84,49.10v1.20M314.54,49.10h4.60M314.54,50.30h4.60M320.20,47.52v1.20M317.90,47.52h4.60M317.90,48.72h4.60M323.51,46.83v1.20M321.21,46.83h4.60M321.21,48.03h4.60M326.77,45.83v1.20M324.47,45.83h4.60M324.47,47.03h4.60M333.18,44.09v1.20M330.88,44.09h4.60M330.88,45.29h4.60M336.32,43.39v1.20M334.02,43.39h4.60M334.02,44.59h4.60M339.43,43.05v1.20M337.13,43.05h4.60M337.13,44.25h4.60M342.49,41.63v1.20M340.19,41.63h4.60M340.19,42.83h4.60M345.53,41.65v1.20M343.23,41.65h4.60M343.23,42.85h4.60M348.52,40.60v1.20M346.22,40.60h4.60M346.22,41.80h4.60M351.49,39.89v1.20M349.19,39.89h4.60M349.19,41.09h4.60M357.32,39.13v1.20M355.02,39.13h4.60M355.02,40.33h4.60M360.20,38.35v1.20M357.90,38.35h4.60M357.90,39.55h4.60M363.04,37.58v1.20M360.74,37.58h4.60M360.74,38.78h4.60" stroke="#ca0f1a" stroke-width="1.5" fill="none"/>
<circle cx="120.20" cy="259.35" r="3.25" stroke="#ca0f1a" stroke-width="1.85" fill="none"/>
<circle cx="136.77" cy="255.88" r="3.25" stroke="#ca0f1a" stroke-width="1.85" fill="none"/>
<circle cx="149.48" cy="242.15" r="3.25" stroke="#ca0f1a" stroke-width="1.85" fill="none"/>
<circle cx="160.20" cy="226.67" r="3.25" stroke="#ca0f1a" stroke-width="1.85" fill="none"/>
<circle cx="169.64" cy="210.96" r="3.25" stroke="#ca0f1a" stroke-width="1.85" fill="none"/>
<circle cx="178.18" cy="196.76" r="3.25" stroke="#ca0f1a" stroke-width="1.85" fill="none"/>
<circle cx="193.34" cy="169.62" r="3.25" stroke="#ca0f1a" stroke-width="1.85" fill="none"/>
<circle cx="200.20" cy="157.53" r="3.25" stroke="#ca0f1a" stroke-width="1.85" fill="none"/>
<circle cx="206.69" cy="146.81" r="3.25" stroke="#ca0f1a" stroke-width="1.85" fill="none"/>
<circle cx="212.86" cy="136.95" r="3.25" stroke="#ca0f1a" stroke-width="1.85" fill="none"/>
<circle cx="218.76" cy="128.05" r="3.25" stroke="#ca0f1a" stroke-width="1.85" fill="none"/>
<circle cx="224.42" cy="119.89" r="3.25" stroke="#ca0f1a" stroke-width="1.85" fill="none"/>
<circle cx="229.86" cy="113.25" r="3.25" stroke="#ca0f1a" stroke-width="1.85" fill="none"/>
<circle cx="240.20" cy="100.17" r="3.25" stroke="#ca0f1a" stroke-width="1.85" fill="none"/>
<circle cx="245.12" cy="95.45" r="3.25" stroke="#ca0f1a" stroke-width="1.85" fill="none"/>
<circle cx="249.90" cy="90.23" r="3.25" stroke="#ca0f1a" stroke-width="1.85" fill="none"/>
<circle cx="254.55" cy="86.13" r="3.25" stroke="#ca0f1a" stroke-width="1.85" fill="none"/>
<circle cx="259.08" cy="81.35" r="3.25" stroke="#ca0f1a" stroke-width="1.85" fill="none"/>
<circle cx="263.50" cy="77.62" r="3.25" stroke="#ca0f1a" stroke-width="1.85" fill="none"/>
<circle cx="267.81" cy="74.68" r="3.25" stroke="#ca0f1a" stroke-width="1.85" fill="none"/>
<circle cx="276.16" cy="68.38" r="3.25" stroke="#ca0f1a" stroke-width="1.85" fill="none"/>
<circle cx="280.20" cy="66.47" r="3.25" stroke="#ca0f1a" stroke-width="1.85" fill="none"/>
<circle cx="284.16" cy="63.93" r="3.25" stroke="#ca0f1a" stroke-width="1.85" fill="none"/>
<circle cx="288.04" cy="61.80" r="3.25" stroke="#ca0f1a" stroke-width="1.85" fill="none"/>
<circle cx="295.60" cy="58.34" r="3.25" stroke="#ca0f1a" stroke-width="1.85" fill="none"/>
<circle cx="299.29" cy="56.28" r="3.25" stroke="#ca0f1a" stroke-width="1.85" fill="none"/>
<circle cx="306.47" cy="52.91" r="3.25" stroke="#ca0f1a" stroke-width="1.85" fill="none"/>
<circle cx="309.98" cy="52.33" r="3.25" stroke="#ca0f1a" stroke-width="1.85" fill="none"/>
<circle cx="313.43" cy="50.60" r="3.25" stroke="#ca0f1a" stroke-width="1.85" fill="none"/>
<circle cx="316.84" cy="49.70" r="3.25" stroke="#ca0f1a" stroke-width="1.85" fill="none"/>
<circle cx="320.20" cy="48.12" r="3.25" stroke="#ca0f1a" stroke-width="1.85" fill="none"/>
<circle cx="323.51" cy="47.43" r="3.25" stroke="#ca0f1a" stroke-width="1.85" fill="none"/>
<circle cx="326.77" cy="46.43" r="3.25" stroke="#ca0f1a" stroke-width="1.85" fill="none"/>
<circle cx="333.18" cy="44.69" r="3.25" stroke="#ca0f1a" stroke-width="1.85" fill="none"/>
<circle cx="336.32" cy="43.99" r="3.25" stroke="#ca0f1a" stroke-width="1.85" fill="none"/>
<circle cx="339.43" cy="43.65" r="3.25" stroke="#ca0f1a" stroke-width="1.85" fill="none"/>
<circle cx="342.49" cy="42.23" r="3.25" stroke="#ca0f1a" stroke-width="1.85" fill="none"/>
<circle cx="345.53" cy="42.25" r="3.25" stroke="#ca0f1a" stroke-width="1.85" fill="none"/>
<circle cx="348.52" cy="41.20" r="3.25" stroke="#ca0f1a" stroke-width="1.85" fill="none"/>
<circle cx="351.49" cy="40.49" r="3.25" stroke="#ca0f1a" stroke-width="1.85" fill="none"/>
<circle cx="357.32" cy="39.73" r="3.25" stroke="#ca0f1a" stroke-width="1.85" fill="none"/>
<circle cx="360.20" cy="38.95" r="3.25" stroke="#ca0f1a" stroke-width="1.85" fill="none"/>
<circle cx="363.04" cy="38.18" r="3.25" stroke="#ca0f1a" stroke-width="1.85" fill="none"/>
<path d="M115.72,164.11v0.70M113.02,164.11h5.40M113.02,164.81h5.40M130.43,165.84v0.70M127.73,165.84h5.40M127.73,166.54h5.40M141.71,162.95v0.70M139.01,162.95h5.40M139.01,163.65h5.40M151.23,157.91v0.70M148.53,157.91h5.40M148.53,158.61h5.40M159.62,152.97v0.70M156.92,152.97h5.40M156.92,153.67h5.40M167.19,148.07v0.70M164.49,148.07h5.40M164.49,148.77h5.40M180.65,138.70v0.70M177.95,138.70h5.40M177.95,139.40h5.40M186.75,133.83v0.70M184.05,133.83h5.40M184.05,134.53h5.40M192.51,129.70v0.70M189.81,129.70h5.40M189.81,130.40h5.40M197.99,125.38v0.70M195.29,125.38h5.40M195.29,126.08h5.40M203.23,121.15v0.70M200.53,121.15h5.40M200.53,121.85h5.40M208.25,117.67v0.70M205.55,117.67h5.40M205.55,118.37h5.40M213.09,113.82v0.70M210.39,113.82h5.40M210.39,114.52h5.40M222.26,106.24v0.70M219.56,106.24h5.40M219.56,106.94h5.40M226.63,103.32v0.70M223.93,103.32h5.40M223.93,104.02h5.40M230.88,100.76v0.70M228.18,100.76h5.40M228.18,101.46h5.40M235.01,97.47v0.70M232.31,97.47h5.40M232.31,98.17h5.40M239.03,94.46v0.70M236.33,94.46h5.40M236.33,95.16h5.40M242.95,91.57v0.70M240.25,91.57h5.40M240.25,92.27h5.40M246.78,89.25v0.70M244.08,89.25h5.40M244.08,89.95h5.40M254.19,84.56v0.70M251.49,84.56h5.40M251.49,85.26h5.40M257.78,82.34v0.70M255.08,82.34h5.40M255.08,83.04h5.40M261.29,79.82v0.70M258.59,79.82h5.40M258.59,80.52h5.40M264.74,77.83v0.70M262.04,77.83h5.40M262.04,78.53h5.40M271.46,74.16v0.70M268.76,74.16h5.40M268.76,74.86h5.40M274.73,72.26v0.70M272.03,72.26h5.40M272.03,72.96h5.40M281.11,68.93v0.70M278.41,68.93h5.40M278.41,69.63h5.40M284.22,67.05v0.70M281.52,67.05h5.40M281.52,67.75h5.40M287.29,65.89v0.70M284.59,65.89h5.40M284.59,66.59h5.40M290.31,64.13v0.70M287.61,64.13h5.40M287.61,64.83h5.40M293.29,62.65v0.70M290.59,62.65h5.40M290.59,63.35h5.40M296.23,61.41v0.70M293.53,61.41h5.40M293.53,62.11h5.40M299.13,60.47v0.70M296.43,60.47h5.40M296.43,61.17h5.40M304.82,57.52v0.70M302.12,57.52h5.40M302.12,58.22h5.40M307.61,56.91v0.70M304.91,56.91h5.40M304.91,57.61h5.40M310.37,55.55v0.70M307.67,55.55h5.40M307.67,56.25h5.40M313.09,54.82v0.70M310.39,54.82h5.40M310.39,55.52h5.40M315.78,54.08v0.70M313.08,54.08h5.40M313.08,54.78h5.40M318.45,52.63v0.70M315.75,52.63h5.40M315.75,53.33h5.40M321.08,51.70v0.70M318.38,51.70h5.40M318.38,52.40h5.40M326.26,50.07v0.70M323.56,50.07h5.40M323.56,50.77h5.40M328.81,49.17v0.70M326.11,49.17h5.40M326.11,49.87h5.40M331.33,48.63v0.70M328.63,48.63h5.40M328.63,49.33h5.40M333.83,47.90v0.70M331.13,47.90h5.40M331.13,48.60h5.40M336.31,47.04v0.70M333.61,47.04h5.40M333.61,47.74h5.40M338.76,45.82v0.70M336.06,45.82h5.40M336.06,46.52h5.40M341.18,45.43v0.70M338.48,45.43h5.40M338.48,46.13h5.40M345.97,44.51v0.70M343.27,44.51h5.40M343.27,45.21h5.40M348.34,43.64v0.70M345.64,43.64h5.40M345.64,44.34h5.40M350.68,43.33v0.70M347.98,43.33h5.40M347.98,44.03h5.40M353.00,42.78v0.70M350.30,42.78h5.40M350.30,43.48h5.40M357.59,41.39v0.70M354.89,41.39h5.40M354.89,42.09h5.40M359.85,41.25v0.70M357.15,41.25h5.40M357.15,41.95h5.40M364.32,40.60v0.70M361.62,40.60h5.40M361.62,41.30h5.40" stroke="#000000" stroke-width="1.7" fill="none"/>
<rect x="112.37" y="161.11" width="6.7" height="6.7" stroke="#000000" stroke-width="1.85" fill="none"/>
<rect x="127.08" y="162.84" width="6.7" height="6.7" stroke="#000000" stroke-width="1.85" fill="none"/>
<rect x="138.36" y="159.95" width="6.7" height="6.7" stroke="#000000" stroke-width="1.85" fill="none"/>
<rect x="147.88" y="154.91" width="6.7" height="6.7" stroke="#000000" stroke-width="1.85" fill="none"/>
<rect x="156.27" y="149.97" width="6.7" height="6.7" stroke="#000000" stroke-width="1.85" fill="none"/>
<rect x="163.84" y="145.07" width="6.7" height="6.7" stroke="#000000" stroke-width="1.85" fill="none"/>
<rect x="177.30" y="135.70" width="6.7" height="6.7" stroke="#000000" stroke-width="1.85" fill="none"/>
<rect x="183.40" y="130.83" width="6.7" height="6.7" stroke="#000000" stroke-width="1.85" fill="none"/>
<rect x="189.16" y="126.70" width="6.7" height="6.7" stroke="#000000" stroke-width="1.85" fill="none"/>
<rect x="194.64" y="122.38" width="6.7" height="6.7" stroke="#000000" stroke-width="1.85" fill="none"/>
<rect x="199.88" y="118.15" width="6.7" height="6.7" stroke="#000000" stroke-width="1.85" fill="none"/>
<rect x="204.90" y="114.67" width="6.7" height="6.7" stroke="#000000" stroke-width="1.85" fill="none"/>
<rect x="209.74" y="110.82" width="6.7" height="6.7" stroke="#000000" stroke-width="1.85" fill="none"/>
<rect x="218.91" y="103.24" width="6.7" height="6.7" stroke="#000000" stroke-width="1.85" fill="none"/>
<rect x="223.28" y="100.32" width="6.7" height="6.7" stroke="#000000" stroke-width="1.85" fill="none"/>
<rect x="227.53" y="97.76" width="6.7" height="6.7" stroke="#000000" stroke-width="1.85" fill="none"/>
<rect x="231.66" y="94.47" width="6.7" height="6.7" stroke="#000000" stroke-width="1.85" fill="none"/>
<rect x="235.68" y="91.46" width="6.7" height="6.7" stroke="#000000" stroke-width="1.85" fill="none"/>
<rect x="239.60" y="88.57" width="6.7" height="6.7" stroke="#000000" stroke-width="1.85" fill="none"/>
<rect x="243.43" y="86.25" width="6.7" height="6.7" stroke="#000000" stroke-width="1.85" fill="none"/>
<rect x="250.84" y="81.56" width="6.7" height="6.7" stroke="#000000" stroke-width="1.85" fill="none"/>
<rect x="254.43" y="79.34" width="6.7" height="6.7" stroke="#000000" stroke-width="1.85" fill="none"/>
<rect x="257.94" y="76.82" width="6.7" height="6.7" stroke="#000000" stroke-width="1.85" fill="none"/>
<rect x="261.39" y="74.83" width="6.7" height="6.7" stroke="#000000" stroke-width="1.85" fill="none"/>
<rect x="268.11" y="71.16" width="6.7" height="6.7" stroke="#000000" stroke-width="1.85" fill="none"/>
<rect x="271.38" y="69.26" width="6.7" height="6.7" stroke="#000000" stroke-width="1.85" fill="none"/>
<rect x="277.76" y="65.93" width="6.7" height="6.7" stroke="#000000" stroke-width="1.85" fill="none"/>
<rect x="280.87" y="64.05" width="6.7" height="6.7" stroke="#000000" stroke-width="1.85" fill="none"/>
<rect x="283.94" y="62.89" width="6.7" height="6.7" stroke="#000000" stroke-width="1.85" fill="none"/>
<rect x="286.96" y="61.13" width="6.7" height="6.7" stroke="#000000" stroke-width="1.85" fill="none"/>
<rect x="289.94" y="59.65" width="6.7" height="6.7" stroke="#000000" stroke-width="1.85" fill="none"/>
<rect x="292.88" y="58.41" width="6.7" height="6.7" stroke="#000000" stroke-width="1.85" fill="none"/>
<rect x="295.78" y="57.47" width="6.7" height="6.7" stroke="#000000" stroke-width="1.85" fill="none"/>
<rect x="301.47" y="54.52" width="6.7" height="6.7" stroke="#000000" stroke-width="1.85" fill="none"/>
<rect x="304.26" y="53.91" width="6.7" height="6.7" stroke="#000000" stroke-width="1.85" fill="none"/>
<rect x="307.02" y="52.55" width="6.7" height="6.7" stroke="#000000" stroke-width="1.85" fill="none"/>
<rect x="309.74" y="51.82" width="6.7" height="6.7" stroke="#000000" stroke-width="1.85" fill="none"/>
<rect x="312.43" y="51.08" width="6.7" height="6.7" stroke="#000000" stroke-width="1.85" fill="none"/>
<rect x="315.10" y="49.63" width="6.7" height="6.7" stroke="#000000" stroke-width="1.85" fill="none"/>
<rect x="317.73" y="48.70" width="6.7" height="6.7" stroke="#000000" stroke-width="1.85" fill="none"/>
<rect x="322.91" y="47.07" width="6.7" height="6.7" stroke="#000000" stroke-width="1.85" fill="none"/>
<rect x="325.46" y="46.17" width="6.7" height="6.7" stroke="#000000" stroke-width="1.85" fill="none"/>
<rect x="327.98" y="45.63" width="6.7" height="6.7" stroke="#000000" stroke-width="1.85" fill="none"/>
<rect x="330.48" y="44.90" width="6.7" height="6.7" stroke="#000000" stroke-width="1.85" fill="none"/>
<rect x="332.96" y="44.04" width="6.7" height="6.7" stroke="#000000" stroke-width="1.85" fill="none"/>
<rect x="335.41" y="42.82" width="6.7" height="6.7" stroke="#000000" stroke-width="1.85" fill="none"/>
<rect x="337.83" y="42.43" width="6.7" height="6.7" stroke="#000000" stroke-width="1.85" fill="none"/>
<rect x="342.62" y="41.51" width="6.7" height="6.7" stroke="#000000" stroke-width="1.85" fill="none"/>
<rect x="344.99" y="40.64" width="6.7" height="6.7" stroke="#000000" stroke-width="1.85" fill="none"/>
<rect x="347.33" y="40.33" width="6.7" height="6.7" stroke="#000000" stroke-width="1.85" fill="none"/>
<rect x="349.65" y="39.78" width="6.7" height="6.7" stroke="#000000" stroke-width="1.85" fill="none"/>
<rect x="354.24" y="38.39" width="6.7" height="6.7" stroke="#000000" stroke-width="1.85" fill="none"/>
<rect x="356.50" y="38.25" width="6.7" height="6.7" stroke="#000000" stroke-width="1.85" fill="none"/>
<rect x="360.97" y="37.60" width="6.7" height="6.7" stroke="#000000" stroke-width="1.85" fill="none"/>
<path d="M115.72,122.60v0.70M113.02,122.60h5.40M113.02,123.30h5.40M130.43,123.07v0.70M127.73,123.07h5.40M127.73,123.77h5.40M141.71,121.28v0.70M139.01,121.28h5.40M139.01,121.98h5.40M151.23,118.64v0.70M148.53,118.64h5.40M148.53,119.34h5.40M159.62,116.61v0.70M156.92,116.61h5.40M156.92,117.31h5.40M167.19,113.67v0.70M164.49,113.67h5.40M164.49,114.37h5.40M180.65,108.67v0.70M177.95,108.67h5.40M177.95,109.37h5.40M186.75,106.36v0.70M184.05,106.36h5.40M184.05,107.06h5.40M192.51,103.71v0.70M189.81,103.71h5.40M189.81,104.41h5.40M197.99,101.46v0.70M195.29,101.46h5.40M195.29,102.16h5.40M203.23,99.53v0.70M200.53,99.53h5.40M200.53,100.23h5.40M208.25,96.83v0.70M205.55,96.83h5.40M205.55,97.53h5.40M213.09,95.28v0.70M210.39,95.28h5.40M210.39,95.98h5.40M222.26,90.86v0.70M219.56,90.86h5.40M219.56,91.56h5.40M226.63,88.93v0.70M223.93,88.93h5.40M223.93,89.63h5.40M230.88,86.93v0.70M228.18,86.93h5.40M228.18,87.63h5.40M235.01,85.39v0.70M232.31,85.39h5.40M232.31,86.09h5.40M239.03,83.44v0.70M236.33,83.44h5.40M236.33,84.14h5.40M242.95,81.75v0.70M240.25,81.75h5.40M240.25,82.45h5.40M246.78,79.80v0.70M244.08,79.80h5.40M244.08,80.50h5.40M254.19,77.08v0.70M251.49,77.08h5.40M251.49,77.78h5.40M257.78,75.34v0.70M255.08,75.34h5.40M255.08,76.04h5.40M261.29,73.96v0.70M258.59,73.96h5.40M258.59,74.66h5.40M264.74,72.81v0.70M262.04,72.81h5.40M262.04,73.51h5.40M271.46,69.09v0.70M268.76,69.09h5.40M268.76,69.79h5.40M274.73,68.50v0.70M272.03,68.50h5.40M272.03,69.20h5.40M281.11,66.40v0.70M278.41,66.40h5.40M278.41,67.10h5.40M284.22,64.49v0.70M281.52,64.49h5.40M281.52,65.19h5.40M287.29,63.98v0.70M284.59,63.98h5.40M284.59,64.68h5.40M290.31,62.51v0.70M287.61,62.51h5.40M287.61,63.21h5.40M293.29,61.32v0.70M290.59,61.32h5.40M290.59,62.02h5.40M296.23,60.67v0.70M293.53,60.67h5.40M293.53,61.37h5.40M299.13,59.61v0.70M296.43,59.61h5.40M296.43,60.31h5.40M304.82,57.73v0.70M302.12,57.73h5.40M302.12,58.43h5.40M307.61,56.71v0.70M304.91,56.71h5.40M304.91,57.41h5.40M310.37,56.21v0.70M307.67,56.21h5.40M307.67,56.91h5.40M313.09,55.25v0.70M310.39,55.25h5.40M310.39,55.95h5.40M315.78,54.14v0.70M313.08,54.14h5.40M313.08,54.84h5.40M318.45,53.03v0.70M315.75,53.03h5.40M315.75,53.73h5.40M321.08,52.35v0.70M318.38,52.35h5.40M318.38,53.05h5.40M326.26,50.58v0.70M323.56,50.58h5.40M323.56,51.28h5.40M328.81,50.13v0.70M326.11,50.13h5.40M326.11,50.83h5.40M331.33,49.74v0.70M328.63,49.74h5.40M328.63,50.44h5.40M333.83,48.97v0.70M331.13,48.97h5.40M331.13,49.67h5.40M336.31,48.80v0.70M333.61,48.80h5.40M333.61,49.50h5.40M338.76,47.89v0.70M336.06,47.89h5.40M336.06,48.59h5.40M341.18,47.29v0.70M338.48,47.29h5.40M338.48,47.99h5.40M345.97,45.79v0.70M343.27,45.79h5.40M343.27,46.49h5.40M348.34,45.13v0.70M345.64,45.13h5.40M345.64,45.83h5.40M350.68,44.89v0.70M347.98,44.89h5.40M347.98,45.59h5.40M353.00,44.36v0.70M350.30,44.36h5.40M350.30,45.06h5.40M357.59,43.59v0.70M354.89,43.59h5.40M354.89,44.29h5.40M359.85,42.74v0.70M357.15,42.74h5.40M357.15,43.44h5.40M364.32,41.71v0.70M361.62,41.71h5.40M361.62,42.41h5.40" stroke="#555555" stroke-width="1.7" fill="none"/>
<path d="M115.72,119.10L118.77,122.95L115.72,126.80L112.67,122.95Z" stroke="#555555" stroke-width="1.85" fill="none"/>
<path d="M130.43,119.57L133.48,123.42L130.43,127.27L127.38,123.42Z" stroke="#555555" stroke-width="1.85" fill="none"/>
<path d="M141.71,117.78L144.76,121.63L141.71,125.48L138.66,121.63Z" stroke="#555555" stroke-width="1.85" fill="none"/>
<path d="M151.23,115.14L154.28,118.99L151.23,122.84L148.18,118.99Z" stroke="#555555" stroke-width="1.85" fill="none"/>
<path d="M159.62,113.11L162.67,116.96L159.62,120.81L156.57,116.96Z" stroke="#555555" stroke-width="1.85" fill="none"/>
<path d="M167.19,110.17L170.24,114.02L167.19,117.87L164.14,114.02Z" stroke="#555555" stroke-width="1.85" fill="none"/>
<path d="M180.65,105.17L183.70,109.02L180.65,112.87L177.60,109.02Z" stroke="#555555" stroke-width="1.85" fill="none"/>
<path d="M186.75,102.86L189.80,106.71L186.75,110.56L183.70,106.71Z" stroke="#555555" stroke-width="1.85" fill="none"/>
<path d="M192.51,100.21L195.56,104.06L192.51,107.91L189.46,104.06Z" stroke="#555555" stroke-width="1.85" fill="none"/>
<path d="M197.99,97.96L201.04,101.81L197.99,105.66L194.94,101.81Z" stroke="#555555" stroke-width="1.85" fill="none"/>
<path d="M203.23,96.03L206.28,99.88L203.23,103.73L200.18,99.88Z" stroke="#555555" stroke-width="1.85" fill="none"/>
<path d="M208.25,93.33L211.30,97.18L208.25,101.03L205.20,97.18Z" stroke="#555555" stroke-width="1.85" fill="none"/>
<path d="M213.09,91.78L216.14,95.63L213.09,99.48L210.04,95.63Z" stroke="#555555" stroke-width="1.85" fill="none"/>
<path d="M222.26,87.36L225.31,91.21L222.26,95.06L219.21,91.21Z" stroke="#555555" stroke-width="1.85" fill="none"/>
<path d="M226.63,85.43L229.68,89.28L226.63,93.13L223.58,89.28Z" stroke="#555555" stroke-width="1.85" fill="none"/>
<path d="M230.88,83.43L233.93,87.28L230.88,91.13L227.83,87.28Z" stroke="#555555" stroke-width="1.85" fill="none"/>
<path d="M235.01,81.89L238.06,85.74L235.01,89.59L231.96,85.74Z" stroke="#555555" stroke-width="1.85" fill="none"/>
<path d="M239.03,79.94L242.08,83.79L239.03,87.64L235.98,83.79Z" stroke="#555555" stroke-width="1.85" fill="none"/>
<path d="M242.95,78.25L246.00,82.10L242.95,85.95L239.90,82.10Z" stroke="#555555" stroke-width="1.85" fill="none"/>
<path d="M246.78,76.30L249.83,80.15L246.78,84.00L243.73,80.15Z" stroke="#555555" stroke-width="1.85" fill="none"/>
<path d="M254.19,73.58L257.24,77.43L254.19,81.28L251.14,77.43Z" stroke="#555555" stroke-width="1.85" fill="none"/>
<path d="M257.78,71.84L260.83,75.69L257.78,79.54L254.73,75.69Z" stroke="#555555" stroke-width="1.85" fill="none"/>
<path d="M261.29,70.46L264.34,74.31L261.29,78.16L258.24,74.31Z" stroke="#555555" stroke-width="1.85" fill="none"/>
<path d="M264.74,69.31L267.79,73.16L264.74,77.01L261.69,73.16Z" stroke="#555555" stroke-width="1.85" fill="none"/>
<path d="M271.46,65.59L274.51,69.44L271.46,73.29L268.41,69.44Z" stroke="#555555" stroke-width="1.85" fill="none"/>
<path d="M274.73,65.00L277.78,68.85L274.73,72.70L271.68,68.85Z" stroke="#555555" stroke-width="1.85" fill="none"/>
<path d="M281.11,62.90L284.16,66.75L281.11,70.60L278.06,66.75Z" stroke="#555555" stroke-width="1.85" fill="none"/>
<path d="M284.22,60.99L287.27,64.84L284.22,68.69L281.17,64.84Z" stroke="#555555" stroke-width="1.85" fill="none"/>
<path d="M287.29,60.48L290.34,64.33L287.29,68.18L284.24,64.33Z" stroke="#555555" stroke-width="1.85" fill="none"/>
<path d="M290.31,59.01L293.36,62.86L290.31,66.71L287.26,62.86Z" stroke="#555555" stroke-width="1.85" fill="none"/>
<path d="M293.29,57.82L296.34,61.67L293.29,65.52L290.24,61.67Z" stroke="#555555" stroke-width="1.85" fill="none"/>
<path d="M296.23,57.17L299.28,61.02L296.23,64.87L293.18,61.02Z" stroke="#555555" stroke-width="1.85" fill="none"/>
<path d="M299.13,56.11L302.18,59.96L299.13,63.81L296.08,59.96Z" stroke="#555555" stroke-width="1.85" fill="none"/>
<path d="M304.82,54.23L307.87,58.08L304.82,61.93L301.77,58.08Z" stroke="#555555" stroke-width="1.85" fill="none"/>
<path d="M307.61,53.21L310.66,57.06L307.61,60.91L304.56,57.06Z" stroke="#555555" stroke-width="1.85" fill="none"/>
<path d="M310.37,52.71L313.42,56.56L310.37,60.41L307.32,56.56Z" stroke="#555555" stroke-width="1.85" fill="none"/>
<path d="M313.09,51.75L316.14,55.60L313.09,59.45L310.04,55.60Z" stroke="#555555" stroke-width="1.85" fill="none"/>
<path d="M315.78,50.64L318.83,54.49L315.78,58.34L312.73,54.49Z" stroke="#555555" stroke-width="1.85" fill="none"/>
<path d="M318.45,49.53L321.50,53.38L318.45,57.23L315.40,53.38Z" stroke="#555555" stroke-width="1.85" fill="none"/>
<path d="M321.08,48.85L324.13,52.70L321.08,56.55L318.03,52.70Z" stroke="#555555" stroke-width="1.85" fill="none"/>
<path d="M326.26,47.08L329.31,50.93L326.26,54.78L323.21,50.93Z" stroke="#555555" stroke-width="1.85" fill="none"/>
<path d="M328.81,46.63L331.86,50.48L328.81,54.33L325.76,50.48Z" stroke="#555555" stroke-width="1.85" fill="none"/>
<path d="M331.33,46.24L334.38,50.09L331.33,53.94L328.28,50.09Z" stroke="#555555" stroke-width="1.85" fill="none"/>
<path d="M333.83,45.47L336.88,49.32L333.83,53.17L330.78,49.32Z" stroke="#555555" stroke-width="1.85" fill="none"/>
<path d="M336.31,45.30L339.36,49.15L336.31,53.00L333.26,49.15Z" stroke="#555555" stroke-width="1.85" fill="none"/>
<path d="M338.76,44.39L341.81,48.24L338.76,52.09L335.71,48.24Z" stroke="#555555" stroke-width="1.85" fill="none"/>
<path d="M341.18,43.79L344.23,47.64L341.18,51.49L338.13,47.64Z" stroke="#555555" stroke-width="1.85" fill="none"/>
<path d="M345.97,42.29L349.02,46.14L345.97,49.99L342.92,46.14Z" stroke="#555555" stroke-width="1.85" fill="none"/>
<path d="M348.34,41.63L351.39,45.48L348.34,49.33L345.29,45.48Z" stroke="#555555" stroke-width="1.85" fill="none"/>
<path d="M350.68,41.39L353.73,45.24L350.68,49.09L347.63,45.24Z" stroke="#555555" stroke-width="1.85" fill="none"/>
<path d="M353.00,40.86L356.05,44.71L353.00,48.56L349.95,44.71Z" stroke="#555555" stroke-width="1.85" fill="none"/>
<path d="M357.59,40.09L360.64,43.94L357.59,47.79L354.54,43.94Z" stroke="#555555" stroke-width="1.85" fill="none"/>
<path d="M359.85,39.24L362.90,43.09L359.85,46.94L356.80,43.09Z" stroke="#555555" stroke-width="1.85" fill="none"/>
<path d="M364.32,38.21L367.37,42.06L364.32,45.91L361.27,42.06Z" stroke="#555555" stroke-width="1.85" fill="none"/>
<path d="M115.72,98.63v0.70M113.02,98.63h5.40M113.02,99.33h5.40M130.43,99.37v0.70M127.73,99.37h5.40M127.73,100.07h5.40M141.71,97.58v0.70M139.01,97.58h5.40M139.01,98.28h5.40M151.23,96.35v0.70M148.53,96.35h5.40M148.53,97.05h5.40M159.62,95.14v0.70M156.92,95.14h5.40M156.92,95.84h5.40M167.19,93.67v0.70M164.49,93.67h5.40M164.49,94.37h5.40M180.65,90.48v0.70M177.95,90.48h5.40M177.95,91.18h5.40M186.75,88.82v0.70M184.05,88.82h5.40M184.05,89.52h5.40M192.51,87.35v0.70M189.81,87.35h5.40M189.81,88.05h5.40M197.99,85.75v0.70M195.29,85.75h5.40M195.29,86.45h5.40M203.23,84.23v0.70M200.53,84.23h5.40M200.53,84.93h5.40M208.25,82.66v0.70M205.55,82.66h5.40M205.55,83.36h5.40M213.09,81.33v0.70M210.39,81.33h5.40M210.39,82.03h5.40M222.26,78.98v0.70M219.56,78.98h5.40M219.56,79.68h5.40M226.63,77.57v0.70M223.93,77.57h5.40M223.93,78.27h5.40M230.88,76.51v0.70M228.18,76.51h5.40M228.18,77.21h5.40M235.01,75.33v0.70M232.31,75.33h5.40M232.31,76.03h5.40M239.03,73.50v0.70M236.33,73.50h5.40M236.33,74.20h5.40M242.95,72.94v0.70M240.25,72.94h5.40M240.25,73.64h5.40M246.78,71.17v0.70M244.08,71.17h5.40M244.08,71.87h5.40M254.19,69.58v0.70M251.49,69.58h5.40M251.49,70.28h5.40M257.78,68.37v0.70M255.08,68.37h5.40M255.08,69.07h5.40M261.29,67.12v0.70M258.59,67.12h5.40M258.59,67.82h5.40M264.74,66.39v0.70M262.04,66.39h5.40M262.04,67.09h5.40M271.46,64.35v0.70M268.76,64.35h5.40M268.76,65.05h5.40M274.73,63.58v0.70M272.03,63.58h5.40M272.03,64.28h5.40M281.11,61.84v0.70M278.41,61.84h5.40M278.41,62.54h5.40M284.22,60.89v0.70M281.52,60.89h5.40M281.52,61.59h5.40M287.29,60.17v0.70M284.59,60.17h5.40M284.59,60.87h5.40M290.31,58.76v0.70M287.61,58.76h5.40M287.61,59.46h5.40M293.29,58.41v0.70M290.59,58.41h5.40M290.59,59.11h5.40M296.23,57.15v0.70M293.53,57.15h5.40M293.53,57.85h5.40M299.13,57.50v0.70M296.43,57.50h5.40M296.43,58.20h5.40M304.82,55.33v0.70M302.12,55.33h5.40M302.12,56.03h5.40M307.61,54.48v0.70M304.91,54.48h5.40M304.91,55.18h5.40M310.37,54.00v0.70M307.67,54.00h5.40M307.67,54.70h5.40M313.09,52.97v0.70M310.39,52.97h5.40M310.39,53.67h5.40M315.78,52.42v0.70M313.08,52.42h5.40M313.08,53.12h5.40M318.45,52.01v0.70M315.75,52.01h5.40M315.75,52.71h5.40M321.08,51.20v0.70M318.38,51.20h5.40M318.38,51.90h5.40M326.26,49.37v0.70M323.56,49.37h5.40M323.56,50.07h5.40M328.81,49.44v0.70M326.11,49.44h5.40M326.11,50.14h5.40M331.33,48.85v0.70M328.63,48.85h5.40M328.63,49.55h5.40M333.83,48.48v0.70M331.13,48.48h5.40M331.13,49.18h5.40M336.31,47.78v0.70M333.61,47.78h5.40M333.61,48.48h5.40M338.76,47.61v0.70M336.06,47.61h5.40M336.06,48.31h5.40M341.18,46.81v0.70M338.48,46.81h5.40M338.48,47.51h5.40M345.97,45.13v0.70M343.27,45.13h5.40M343.27,45.83h5.40M348.34,45.00v0.70M345.64,45.00h5.40M345.64,45.70h5.40M350.68,44.63v0.70M347.98,44.63h5.40M347.98,45.33h5.40M353.00,44.05v0.70M350.30,44.05h5.40M350.30,44.75h5.40M357.59,42.95v0.70M354.89,42.95h5.40M354.89,43.65h5.40M359.85,42.85v0.70M357.15,42.85h5.40M357.15,43.55h5.40M364.32,41.63v0.70M361.62,41.63h5.40M361.62,42.33h5.40" stroke="#dba04b" stroke-width="1.7" fill="none"/>
<path d="M115.72,95.08L119.32,101.78L112.12,101.78Z" stroke="#dba04b" stroke-width="1.85" fill="none"/>
<path d="M130.43,95.82L134.03,102.52L126.83,102.52Z" stroke="#dba04b" stroke-width="1.85" fill="none"/>
<path d="M141.71,94.03L145.31,100.73L138.11,100.73Z" stroke="#dba04b" stroke-width="1.85" fill="none"/>
<path d="M151.23,92.80L154.83,99.50L147.63,99.50Z" stroke="#dba04b" stroke-width="1.85" fill="none"/>
<path d="M159.62,91.59L163.22,98.29L156.02,98.29Z" stroke="#dba04b" stroke-width="1.85" fill="none"/>
<path d="M167.19,90.12L170.79,96.82L163.59,96.82Z" stroke="#dba04b" stroke-width="1.85" fill="none"/>
<path d="M180.65,86.93L184.25,93.63L177.05,93.63Z" stroke="#dba04b" stroke-width="1.85" fill="none"/>
<path d="M186.75,85.27L190.35,91.97L183.15,91.97Z" stroke="#dba04b" stroke-width="1.85" fill="none"/>
<path d="M192.51,83.80L196.11,90.50L188.91,90.50Z" stroke="#dba04b" stroke-width="1.85" fill="none"/>
<path d="M197.99,82.20L201.59,88.90L194.39,88.90Z" stroke="#dba04b" stroke-width="1.85" fill="none"/>
<path d="M203.23,80.68L206.83,87.38L199.63,87.38Z" stroke="#dba04b" stroke-width="1.85" fill="none"/>
<path d="M208.25,79.11L211.85,85.81L204.65,85.81Z" stroke="#dba04b" stroke-width="1.85" fill="none"/>
<path d="M213.09,77.78L216.69,84.48L209.49,84.48Z" stroke="#dba04b" stroke-width="1.85" fill="none"/>
<path d="M222.26,75.43L225.86,82.13L218.66,82.13Z" stroke="#dba04b" stroke-width="1.85" fill="none"/>
<path d="M226.63,74.02L230.23,80.72L223.03,80.72Z" stroke="#dba04b" stroke-width="1.85" fill="none"/>
<path d="M230.88,72.96L234.48,79.66L227.28,79.66Z" stroke="#dba04b" stroke-width="1.85" fill="none"/>
<path d="M235.01,71.78L238.61,78.48L231.41,78.48Z" stroke="#dba04b" stroke-width="1.85" fill="none"/>
<path d="M239.03,69.95L242.63,76.65L235.43,76.65Z" stroke="#dba04b" stroke-width="1.85" fill="none"/>
<path d="M242.95,69.39L246.55,76.09L239.35,76.09Z" stroke="#dba04b" stroke-width="1.85" fill="none"/>
<path d="M246.78,67.62L250.38,74.32L243.18,74.32Z" stroke="#dba04b" stroke-width="1.85" fill="none"/>
<path d="M254.19,66.03L257.79,72.73L250.59,72.73Z" stroke="#dba04b" stroke-width="1.85" fill="none"/>
<path d="M257.78,64.82L261.38,71.52L254.18,71.52Z" stroke="#dba04b" stroke-width="1.85" fill="none"/>
<path d="M261.29,63.57L264.89,70.27L257.69,70.27Z" stroke="#dba04b" stroke-width="1.85" fill="none"/>
<path d="M264.74,62.84L268.34,69.54L261.14,69.54Z" stroke="#dba04b" stroke-width="1.85" fill="none"/>
<path d="M271.46,60.80L275.06,67.50L267.86,67.50Z" stroke="#dba04b" stroke-width="1.85" fill="none"/>
<path d="M274.73,60.03L278.33,66.73L271.13,66.73Z" stroke="#dba04b" stroke-width="1.85" fill="none"/>
<path d="M281.11,58.29L284.71,64.99L277.51,64.99Z" stroke="#dba04b" stroke-width="1.85" fill="none"/>
<path d="M284.22,57.34L287.82,64.04L280.62,64.04Z" stroke="#dba04b" stroke-width="1.85" fill="none"/>
<path d="M287.29,56.62L290.89,63.32L283.69,63.32Z" stroke="#dba04b" stroke-width="1.85" fill="none"/>
<path d="M290.31,55.21L293.91,61.91L286.71,61.91Z" stroke="#dba04b" stroke-width="1.85" fill="none"/>
<path d="M293.29,54.86L296.89,61.56L289.69,61.56Z" stroke="#dba04b" stroke-width="1.85" fill="none"/>
<path d="M296.23,53.60L299.83,60.30L292.63,60.30Z" stroke="#dba04b" stroke-width="1.85" fill="none"/>
<path d="M299.13,53.95L302.73,60.65L295.53,60.65Z" stroke="#dba04b" stroke-width="1.85" fill="none"/>
<path d="M304.82,51.78L308.42,58.48L301.22,58.48Z" stroke="#dba04b" stroke-width="1.85" fill="none"/>
<path d="M307.61,50.93L311.21,57.63L304.01,57.63Z" stroke="#dba04b" stroke-width="1.85" fill="none"/>
<path d="M310.37,50.45L313.97,57.15L306.77,57.15Z" stroke="#dba04b" stroke-width="1.85" fill="none"/>
<path d="M313.09,49.42L316.69,56.12L309.49,56.12Z" stroke="#dba04b" stroke-width="1.85" fill="none"/>
<path d="M315.78,48.87L319.38,55.57L312.18,55.57Z" stroke="#dba04b" stroke-width="1.85" fill="none"/>
<path d="M318.45,48.46L322.05,55.16L314.85,55.16Z" stroke="#dba04b" stroke-width="1.85" fill="none"/>
<path d="M321.08,47.65L324.68,54.35L317.48,54.35Z" stroke="#dba04b" stroke-width="1.85" fill="none"/>
<path d="M326.26,45.82L329.86,52.52L322.66,52.52Z" stroke="#dba04b" stroke-width="1.85" fill="none"/>
<path d="M328.81,45.89L332.41,52.59L325.21,52.59Z" stroke="#dba04b" stroke-width="1.85" fill="none"/>
<path d="M331.33,45.30L334.93,52.00L327.73,52.00Z" stroke="#dba04b" stroke-width="1.85" fill="none"/>
<path d="M333.83,44.93L337.43,51.63L330.23,51.63Z" stroke="#dba04b" stroke-width="1.85" fill="none"/>
<path d="M336.31,44.23L339.91,50.93L332.71,50.93Z" stroke="#dba04b" stroke-width="1.85" fill="none"/>
<path d="M338.76,44.06L342.36,50.76L335.16,50.76Z" stroke="#dba04b" stroke-width="1.85" fill="none"/>
<path d="M341.18,43.26L344.78,49.96L337.58,49.96Z" stroke="#dba04b" stroke-width="1.85" fill="none"/>
<path d="M345.97,41.58L349.57,48.28L342.37,48.28Z" stroke="#dba04b" stroke-width="1.85" fill="none"/>
<path d="M348.34,41.45L351.94,48.15L344.74,48.15Z" stroke="#dba04b" stroke-width="1.85" fill="none"/>
<path d="M350.68,41.08L354.28,47.78L347.08,47.78Z" stroke="#dba04b" stroke-width="1.85" fill="none"/>
<path d="M353.00,40.50L356.60,47.20L349.40,47.20Z" stroke="#dba04b" stroke-width="1.85" fill="none"/>
<path d="M357.59,39.40L361.19,46.10L353.99,46.10Z" stroke="#dba04b" stroke-width="1.85" fill="none"/>
<path d="M359.85,39.30L363.45,46.00L356.25,46.00Z" stroke="#dba04b" stroke-width="1.85" fill="none"/>
<path d="M364.32,38.08L367.92,44.78L360.72,44.78Z" stroke="#dba04b" stroke-width="1.85" fill="none"/>
<path d="M115.72,59.26v0.70M113.02,59.26h5.40M113.02,59.96h5.40M130.43,59.61v0.70M127.73,59.61h5.40M127.73,60.31h5.40M141.71,58.91v0.70M139.01,58.91h5.40M139.01,59.61h5.40M151.23,59.55v0.70M148.53,59.55h5.40M148.53,60.25h5.40M159.62,58.67v0.70M156.92,58.67h5.40M156.92,59.37h5.40M167.19,58.00v0.70M164.49,58.00h5.40M164.49,58.70h5.40M180.65,57.40v0.70M177.95,57.40h5.40M177.95,58.10h5.40M186.75,56.76v0.70M184.05,56.76h5.40M184.05,57.46h5.40M192.51,56.43v0.70M189.81,56.43h5.40M189.81,57.13h5.40M197.99,55.99v0.70M195.29,55.99h5.40M195.29,56.69h5.40M203.23,54.69v0.70M200.53,54.69h5.40M200.53,55.39h5.40M208.25,54.79v0.70M205.55,54.79h5.40M205.55,55.49h5.40M213.09,54.54v0.70M210.39,54.54h5.40M210.39,55.24h5.40M222.26,53.34v0.70M219.56,53.34h5.40M219.56,54.04h5.40M226.63,53.33v0.70M223.93,53.33h5.40M223.93,54.03h5.40M230.88,52.63v0.70M228.18,52.63h5.40M228.18,53.33h5.40M235.01,52.36v0.70M232.31,52.36h5.40M232.31,53.06h5.40M239.03,51.64v0.70M236.33,51.64h5.40M236.33,52.34h5.40M242.95,52.02v0.70M240.25,52.02h5.40M240.25,52.72h5.40M246.78,51.08v0.70M244.08,51.08h5.40M244.08,51.78h5.40M254.19,50.48v0.70M251.49,50.48h5.40M251.49,51.18h5.40M257.78,50.43v0.70M255.08,50.43h5.40M255.08,51.13h5.40M261.29,49.50v0.70M258.59,49.50h5.40M258.59,50.20h5.40M264.74,49.63v0.70M262.04,49.63h5.40M262.04,50.33h5.40M271.46,48.28v0.70M268.76,48.28h5.40M268.76,48.98h5.40M274.73,48.21v0.70M272.03,48.21h5.40M272.03,48.91h5.40M281.11,47.48v0.70M278.41,47.48h5.40M278.41,48.18h5.40M284.22,47.30v0.70M281.52,47.30h5.40M281.52,48.00h5.40M287.29,46.76v0.70M284.59,46.76h5.40M284.59,47.46h5.40M290.31,47.14v0.70M287.61,47.14h5.40M287.61,47.84h5.40M293.29,46.32v0.70M290.59,46.32h5.40M290.59,47.02h5.40M296.23,46.18v0.70M293.53,46.18h5.40M293.53,46.88h5.40M299.13,45.63v0.70M296.43,45.63h5.40M296.43,46.33h5.40M304.82,45.10v0.70M302.12,45.10h5.40M302.12,45.80h5.40M307.61,44.63v0.70M304.91,44.63h5.40M304.91,45.33h5.40M310.37,44.70v0.70M307.67,44.70h5.40M307.67,45.40h5.40M313.09,43.72v0.70M310.39,43.72h5.40M310.39,44.42h5.40M315.78,43.31v0.70M313.08,43.31h5.40M313.08,44.01h5.40M318.45,43.67v0.70M315.75,43.67h5.40M315.75,44.37h5.40M321.08,43.33v0.70M318.38,43.33h5.40M318.38,44.03h5.40M326.26,42.70v0.70M323.56,42.70h5.40M323.56,43.40h5.40M328.81,42.18v0.70M326.11,42.18h5.40M326.11,42.88h5.40M331.33,41.75v0.70M328.63,41.75h5.40M328.63,42.45h5.40M333.83,42.27v0.70M331.13,42.27h5.40M331.13,42.97h5.40M336.31,41.86v0.70M333.61,41.86h5.40M333.61,42.56h5.40M338.76,41.72v0.70M336.06,41.72h5.40M336.06,42.42h5.40M341.18,41.47v0.70M338.48,41.47h5.40M338.48,42.17h5.40M345.97,41.10v0.70M343.27,41.10h5.40M343.27,41.80h5.40M348.34,40.35v0.70M345.64,40.35h5.40M345.64,41.05h5.40M350.68,40.49v0.70M347.98,40.49h5.40M347.98,41.19h5.40M353.00,39.57v0.70M350.30,39.57h5.40M350.30,40.27h5.40M357.59,39.26v0.70M354.89,39.26h5.40M354.89,39.96h5.40M359.85,39.52v0.70M357.15,39.52h5.40M357.15,40.22h5.40M364.32,39.07v0.70M361.62,39.07h5.40M361.62,39.77h5.40" stroke="#281ee6" stroke-width="1.7" fill="none"/>
<path d="M115.72,55.76L118.77,59.61L115.72,63.46L112.67,59.61Z" stroke="#281ee6" stroke-width="1.85" fill="none"/>
<path d="M130.43,56.11L133.48,59.96L130.43,63.81L127.38,59.96Z" stroke="#281ee6" stroke-width="1.85" fill="none"/>
<path d="M141.71,55.41L144.76,59.26L141.71,63.11L138.66,59.26Z" stroke="#281ee6" stroke-width="1.85" fill="none"/>
<path d="M151.23,56.05L154.28,59.90L151.23,63.75L148.18,59.90Z" stroke="#281ee6" stroke-width="1.85" fill="none"/>
<path d="M159.62,55.17L162.67,59.02L159.62,62.87L156.57,59.02Z" stroke="#281ee6" stroke-width="1.85" fill="none"/>
<path d="M167.19,54.50L170.24,58.35L167.19,62.20L164.14,58.35Z" stroke="#281ee6" stroke-width="1.85" fill="none"/>
<path d="M180.65,53.90L183.70,57.75L180.65,61.60L177.60,57.75Z" stroke="#281ee6" stroke-width="1.85" fill="none"/>
<path d="M186.75,53.26L189.80,57.11L186.75,60.96L183.70,57.11Z" stroke="#281ee6" stroke-width="1.85" fill="none"/>
<path d="M192.51,52.93L195.56,56.78L192.51,60.63L189.46,56.78Z" stroke="#281ee6" stroke-width="1.85" fill="none"/>
<path d="M197.99,52.49L201.04,56.34L197.99,60.19L194.94,56.34Z" stroke="#281ee6" stroke-width="1.85" fill="none"/>
<path d="M203.23,51.19L206.28,55.04L203.23,58.89L200.18,55.04Z" stroke="#281ee6" stroke-width="1.85" fill="none"/>
<path d="M208.25,51.29L211.30,55.14L208.25,58.99L205.20,55.14Z" stroke="#281ee6" stroke-width="1.85" fill="none"/>
<path d="M213.09,51.04L216.14,54.89L213.09,58.74L210.04,54.89Z" stroke="#281ee6" stroke-width="1.85" fill="none"/>
<path d="M222.26,49.84L225.31,53.69L222.26,57.54L219.21,53.69Z" stroke="#281ee6" stroke-width="1.85" fill="none"/>
<path d="M226.63,49.83L229.68,53.68L226.63,57.53L223.58,53.68Z" stroke="#281ee6" stroke-width="1.85" fill="none"/>
<path d="M230.88,49.13L233.93,52.98L230.88,56.83L227.83,52.98Z" stroke="#281ee6" stroke-width="1.85" fill="none"/>
<path d="M235.01,48.86L238.06,52.71L235.01,56.56L231.96,52.71Z" stroke="#281ee6" stroke-width="1.85" fill="none"/>
<path d="M239.03,48.14L242.08,51.99L239.03,55.84L235.98,51.99Z" stroke="#281ee6" stroke-width="1.85" fill="none"/>
<path d="M242.95,48.52L246.00,52.37L242.95,56.22L239.90,52.37Z" stroke="#281ee6" stroke-width="1.85" fill="none"/>
<path d="M246.78,47.58L249.83,51.43L246.78,55.28L243.73,51.43Z" stroke="#281ee6" stroke-width="1.85" fill="none"/>
<path d="M254.19,46.98L257.24,50.83L254.19,54.68L251.14,50.83Z" stroke="#281ee6" stroke-width="1.85" fill="none"/>
<path d="M257.78,46.93L260.83,50.78L257.78,54.63L254.73,50.78Z" stroke="#281ee6" stroke-width="1.85" fill="none"/>
<path d="M261.29,46.00L264.34,49.85L261.29,53.70L258.24,49.85Z" stroke="#281ee6" stroke-width="1.85" fill="none"/>
<path d="M264.74,46.13L267.79,49.98L264.74,53.83L261.69,49.98Z" stroke="#281ee6" stroke-width="1.85" fill="none"/>
<path d="M271.46,44.78L274.51,48.63L271.46,52.48L268.41,48.63Z" stroke="#281ee6" stroke-width="1.85" fill="none"/>
<path d="M274.73,44.71L277.78,48.56L274.73,52.41L271.68,48.56Z" stroke="#281ee6" stroke-width="1.85" fill="none"/>
<path d="M281.11,43.98L284.16,47.83L281.11,51.68L278.06,47.83Z" stroke="#281ee6" stroke-width="1.85" fill="none"/>
<path d="M284.22,43.80L287.27,47.65L284.22,51.50L281.17,47.65Z" stroke="#281ee6" stroke-width="1.85" fill="none"/>
<path d="M287.29,43.26L290.34,47.11L287.29,50.96L284.24,47.11Z" stroke="#281ee6" stroke-width="1.85" fill="none"/>
<path d="M290.31,43.64L293.36,47.49L290.31,51.34L287.26,47.49Z" stroke="#281ee6" stroke-width="1.85" fill="none"/>
<path d="M293.29,42.82L296.34,46.67L293.29,50.52L290.24,46.67Z" stroke="#281ee6" stroke-width="1.85" fill="none"/>
<path d="M296.23,42.68L299.28,46.53L296.23,50.38L293.18,46.53Z" stroke="#281ee6" stroke-width="1.85" fill="none"/>
<path d="M299.13,42.13L302.18,45.98L299.13,49.83L296.08,45.98Z" stroke="#281ee6" stroke-width="1.85" fill="none"/>
<path d="M304.82,41.60L307.87,45.45L304.82,49.30L301.77,45.45Z" stroke="#281ee6" stroke-width="1.85" fill="none"/>
<path d="M307.61,41.13L310.66,44.98L307.61,48.83L304.56,44.98Z" stroke="#281ee6" stroke-width="1.85" fill="none"/>
<path d="M310.37,41.20L313.42,45.05L310.37,48.90L307.32,45.05Z" stroke="#281ee6" stroke-width="1.85" fill="none"/>
<path d="M313.09,40.22L316.14,44.07L313.09,47.92L310.04,44.07Z" stroke="#281ee6" stroke-width="1.85" fill="none"/>
<path d="M315.78,39.81L318.83,43.66L315.78,47.51L312.73,43.66Z" stroke="#281ee6" stroke-width="1.85" fill="none"/>
<path d="M318.45,40.17L321.50,44.02L318.45,47.87L315.40,44.02Z" stroke="#281ee6" stroke-width="1.85" fill="none"/>
<path d="M321.08,39.83L324.13,43.68L321.08,47.53L318.03,43.68Z" stroke="#281ee6" stroke-width="1.85" fill="none"/>
<path d="M326.26,39.20L329.31,43.05L326.26,46.90L323.21,43.05Z" stroke="#281ee6" stroke-width="1.85" fill="none"/>
<path d="M328.81,38.68L331.86,42.53L328.81,46.38L325.76,42.53Z" stroke="#281ee6" stroke-width="1.85" fill="none"/>
<path d="M331.33,38.25L334.38,42.10L331.33,45.95L328.28,42.10Z" stroke="#281ee6" stroke-width="1.85" fill="none"/>
<path d="M333.83,38.77L336.88,42.62L333.83,46.47L330.78,42.62Z" stroke="#281ee6" stroke-width="1.85" fill="none"/>
<path d="M336.31,38.36L339.36,42.21L336.31,46.06L333.26,42.21Z" stroke="#281ee6" stroke-width="1.85" fill="none"/>
<path d="M338.76,38.22L341.81,42.07L338.76,45.92L335.71,42.07Z" stroke="#281ee6" stroke-width="1.85" fill="none"/>
<path d="M341.18,37.97L344.23,41.82L341.18,45.67L338.13,41.82Z" stroke="#281ee6" stroke-width="1.85" fill="none"/>
<path d="M345.97,37.60L349.02,41.45L345.97,45.30L342.92,41.45Z" stroke="#281ee6" stroke-width="1.85" fill="none"/>
<path d="M348.34,36.85L351.39,40.70L348.34,44.55L345.29,40.70Z" stroke="#281ee6" stroke-width="1.85" fill="none"/>
<path d="M350.68,36.99L353.73,40.84L350.68,44.69L347.63,40.84Z" stroke="#281ee6" stroke-width="1.85" fill="none"/>
<path d="M353.00,36.07L356.05,39.92L353.00,43.77L349.95,39.92Z" stroke="#281ee6" stroke-width="1.85" fill="none"/>
<path d="M357.59,35.76L360.64,39.61L357.59,43.46L354.54,39.61Z" stroke="#281ee6" stroke-width="1.85" fill="none"/>
<path d="M359.85,36.02L362.90,39.87L359.85,43.72L356.80,39.87Z" stroke="#281ee6" stroke-width="1.85" fill="none"/>
<path d="M364.32,35.57L367.37,39.42L364.32,43.27L361.27,39.42Z" stroke="#281ee6" stroke-width="1.85" fill="none"/>
</g>
<g stroke="#000" stroke-width="1.9" fill="none" stroke-linecap="butt">
<rect x="80.2" y="16.1" width="284.8" height="297.5"/>
<path d="M127.67,313.6v-6.0M127.67,16.1v6.0"/>
<path d="M175.13,313.6v-6.0M175.13,16.1v6.0"/>
<path d="M222.60,313.6v-6.0M222.60,16.1v6.0"/>
<path d="M270.07,313.6v-6.0M270.07,16.1v6.0"/>
<path d="M317.53,313.6v-6.0M317.53,16.1v6.0"/>
<path d="M80.2,58.60h6.0M365.0,58.60h-6.0"/>
<path d="M80.2,101.10h6.0M365.0,101.10h-6.0"/>
<path d="M80.2,143.60h6.0M365.0,143.60h-6.0"/>
<path d="M80.2,186.10h6.0M365.0,186.10h-6.0"/>
<path d="M80.2,228.60h6.0M365.0,228.60h-6.0"/>
<path d="M80.2,271.10h6.0M365.0,271.10h-6.0"/>
</g>
<path d="M307.2,221.70H347.8M307.2,218.60v6.2M347.8,218.60v6.2" stroke="#149632" stroke-width="1.9" fill="none"/>
<path d="M322.90,217.10L332.10,226.30M322.90,226.30L332.10,217.10" stroke="#149632" stroke-width="1.85" fill="none"/>
<path d="M307.2,237.25H347.8M307.2,234.15v6.2M347.8,234.15v6.2" stroke="#ca0f1a" stroke-width="1.9" fill="none"/>
<circle cx="327.50" cy="237.25" r="3.25" stroke="#ca0f1a" stroke-width="1.85" fill="none"/>
<path d="M307.2,252.80H347.8M307.2,249.70v6.2M347.8,249.70v6.2" stroke="#000000" stroke-width="1.9" fill="none"/>
<rect x="324.15" y="249.45" width="6.7" height="6.7" stroke="#000000" stroke-width="1.85" fill="none"/>
<path d="M307.2,268.35H347.8M307.2,265.25v6.2M347.8,265.25v6.2" stroke="#555555" stroke-width="1.9" fill="none"/>
<path d="M327.50,264.50L330.55,268.35L327.50,272.20L324.45,268.35Z" stroke="#555555" stroke-width="1.85" fill="none"/>
<path d="M307.2,283.90H347.8M307.2,280.80v6.2M347.8,280.80v6.2" stroke="#dba04b" stroke-width="1.9" fill="none"/>
<path d="M327.50,280.00L331.10,286.70L323.90,286.70Z" stroke="#dba04b" stroke-width="1.85" fill="none"/>
<path d="M307.2,299.45H347.8M307.2,296.35v6.2M347.8,296.35v6.2" stroke="#281ee6" stroke-width="1.9" fill="none"/>
<path d="M327.50,295.60L330.55,299.45L327.50,303.30L324.45,299.45Z" stroke="#281ee6" stroke-width="1.85" fill="none"/>
</svg>
<div class="t" style="right:318.6px;text-align:right;transform-origin:right center;top:9.1px;">0</div>
<div class="t" style="right:318.6px;text-align:right;transform-origin:right center;top:51.6px;">-0.05</div>
<div class="t" style="right:318.6px;text-align:right;transform-origin:right center;top:94.1px;">-0.1</div>
<div class="t" style="right:318.6px;text-align:right;transform-origin:right center;top:136.6px;">-0.15</div>
<div class="t" style="right:318.6px;text-align:right;transform-origin:right center;top:179.1px;">-0.2</div>
<div class="t" style="right:318.6px;text-align:right;transform-origin:right center;top:221.6px;">-0.25</div>
<div class="t" style="right:318.6px;text-align:right;transform-origin:right center;top:264.1px;">-0.3</div>
<div class="t" style="right:318.6px;text-align:right;transform-origin:right center;top:306.6px;">-0.35</div>
<div class="t" style="left:32.2px;width:100px;text-align:center;transform-origin:center center;top:322.5px;">0</div>
<div class="t" style="left:79.7px;width:100px;text-align:center;transform-origin:center center;top:322.5px;">1</div>
<div class="t" style="left:127.1px;width:100px;text-align:center;transform-origin:center center;top:322.5px;">2</div>
<div class="t" style="left:174.6px;width:100px;text-align:center;transform-origin:center center;top:322.5px;">3</div>
<div class="t" style="left:222.1px;width:100px;text-align:center;transform-origin:center center;top:322.5px;">4</div>
<div class="t" style="left:269.5px;width:100px;text-align:center;transform-origin:center center;top:322.5px;">5</div>
<div class="t" style="left:317.0px;width:100px;text-align:center;transform-origin:center center;top:322.5px;">6</div>
<div class="t" style="right:91.4px;text-align:right;transform-origin:right center;top:214.7px;">θ<span class="eq">=</span>0.85</div>
<div class="t" style="right:91.4px;text-align:right;transform-origin:right center;top:230.2px;">θ<span class="eq">=</span>1</div>
<div class="t" style="right:91.4px;text-align:right;transform-origin:right center;top:245.8px;">θ<span class="eq">=</span>2</div>
<div class="t" style="right:91.4px;text-align:right;transform-origin:right center;top:261.4px;">θ<span class="eq">=</span>3</div>
<div class="t" style="right:91.4px;text-align:right;transform-origin:right center;top:276.9px;">θ<span class="eq">=</span>4</div>
<div class="t" style="right:91.4px;text-align:right;transform-origin:right center;top:292.4px;">θ<span class="eq">=</span>8</div>
<div class="t" style="left:300.6px;transform-origin:left center;top:182.7px;letter-spacing:0.65px;">r<span class="sub">s</span><span class="eq">=</span>0.3</div>
<div class="t" style="left:208.6px;transform-origin:left center;top:346.6px;">q/q<span class="sub">F</span></div>
<div class="t" style="left:15.5px;top:164.3px;width:0;height:0;transform:none;"><div style="position:absolute;white-space:nowrap;transform:translate(-50%,-50%) rotate(-90deg) scaleX(1.04);left:0;top:0;">χ(q)</div></div>
</div></body></html>
